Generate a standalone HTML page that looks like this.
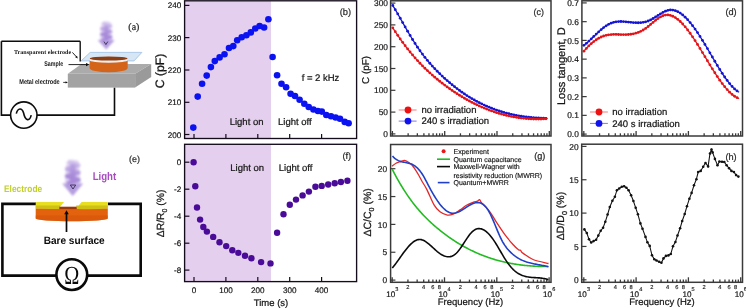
<!DOCTYPE html>
<html><head><meta charset="utf-8"><style>
html,body{margin:0;padding:0;background:#fff;width:746px;height:308px;overflow:hidden}
svg{display:block;will-change:transform}
text{text-rendering:geometricPrecision}
</style></head><body>
<svg width="746" height="308" viewBox="0 0 746 308">
<defs><filter id="blur1" x="-30%" y="-30%" width="160%" height="160%"><feGaussianBlur stdDeviation="0.9"/></filter></defs>
<rect width="746" height="308" fill="#fff"/>
<path d="M1.4,41.3 H80.2" fill="none" stroke="#0d0d0d" stroke-width="1.5"/>
<path d="M1.4,41.3 V115.1 H10.6" fill="none" stroke="#0d0d0d" stroke-width="1.6"/>
<path d="M37,115.1 H114.5 V87.6" fill="none" stroke="#0d0d0d" stroke-width="1.6"/>
<circle cx="23.8" cy="115.1" r="13.2" fill="#fff" stroke="#0d0d0d" stroke-width="1.6"/>
<path d="M16.3,113.6 C17.8,107.5 22,107.5 23.6,113 C25.3,121.5 29.8,121.5 31.2,115.2" fill="none" stroke="#0d0d0d" stroke-width="1.6"/>
<polygon points="67.8,73.8 81.4,64.1 151.2,64.1 135.1,73.8" fill="#ababab"/>
<rect x="67.8" y="73.8" width="67.3" height="13.8" fill="#a3a3a3"/>
<polygon points="135.1,73.8 151.2,64.1 151.2,77.1 135.1,87.6" fill="#9a9a9a"/>
<polygon points="90.2,52.4 141.9,52.4 134,60.9 81.1,60.9" fill="#d7e6f4" stroke="#a4c4e6" stroke-width="0.9"/>
<path d="M89.6,60.5 V68 A19.05,4.3 0 0 0 127.7,68 V60.5 Z" fill="#d5641b"/>
<ellipse cx="108.65" cy="60.3" rx="19.05" ry="2.4" fill="#efefef"/>
<ellipse cx="108.65" cy="58.5" rx="18.8" ry="2.1" fill="#8d3d12"/>
<path d="M80.2,41.3 V61.5" fill="none" stroke="#0d0d0d" stroke-width="1.35"/>
<defs><linearGradient id="lga" gradientUnits="userSpaceOnUse" x1="0" y1="21.5" x2="0" y2="49.5"><stop offset="0" stop-color="#c9b6ea" stop-opacity="0.55"/><stop offset="0.45" stop-color="#a283d6" stop-opacity="0.9"/><stop offset="1" stop-color="#a98bd9" stop-opacity="0.95"/></linearGradient></defs>
<g filter="url(#blur1)">
<path d="M101.47500000000001,22.5 Q106.2,20.0 110.925,22.5 L112.5,40 L99.9,40 Z" fill="#d6c6ef" opacity="0.7"/>
<path d="M102.735,23.0 L110.736,25.83 L101.664,28.67 L110.736,31.50 L101.664,34.33 L110.736,37.17 L101.664,40.00 " fill="none" stroke="url(#lga)" stroke-width="3.40" stroke-linejoin="round"/>
<path d="M103.995,25.5 L108.405,25.5 L108.72,40 L103.68,40 Z" fill="#a484d6" opacity="0.45"/>
<path d="M97.7,40 L114.7,40 L106.2,49.5 Z" fill="#ad93dc" opacity="0.9"/>
</g>
<path d="M104,41.6 L105.9,44.6 L107.8,41.6" fill="none" stroke="#3a2a55" stroke-width="0.9"/>
<text x="14" y="54.4" font-size="6.05" text-anchor="start" fill="#151515" stroke="#151515" stroke-width="0" font-family='"Liberation Serif", serif' font-weight="bold" textLength="57.2" lengthAdjust="spacingAndGlyphs">Transparent electrode</text>
<path d="M72.4,52.4 L76.6,57" fill="none" stroke="#0d0d0d" stroke-width="0.9"/>
<path d="M75.2,57.2 L77.8,58.6 L77,55.8 Z" fill="#0d0d0d"/>
<text x="44.3" y="65.5" font-size="6.9" text-anchor="start" fill="#151515" stroke="#151515" stroke-width="0" font-family='"Liberation Sans", sans-serif' font-weight="bold" textLength="18.8" lengthAdjust="spacingAndGlyphs">Sample</text>
<path d="M68.5,64.6 H87" stroke="#0d0d0d" stroke-width="0.9"/>
<path d="M86,62.9 L89.3,64.6 L86,66.3 Z" fill="#0d0d0d"/>
<text x="19.3" y="83.9" font-size="6.9" text-anchor="start" fill="#151515" stroke="#151515" stroke-width="0" font-family='"Liberation Sans", sans-serif' font-weight="bold" textLength="40.4" lengthAdjust="spacingAndGlyphs">Metal electrode</text>
<path d="M63.2,82.4 H66" stroke="#0d0d0d" stroke-width="0.8"/>
<path d="M65.6,81.2 L67.8,82.4 L65.6,83.6 Z" fill="#0d0d0d"/>
<text x="128.3" y="30.1" font-size="10" text-anchor="start" fill="#2a2a2a" stroke="#2a2a2a" stroke-width="0.232" font-family='"Liberation Serif", serif' font-weight="normal" >(a)</text>
<path d="M36,203.9 H2.4 V275.6 H56.2" fill="none" stroke="#0a0a0a" stroke-width="2.6"/>
<path d="M87.4,275.6 H140.7 V203.9 H107.8" fill="none" stroke="#0a0a0a" stroke-width="2.6"/>
<circle cx="71.8" cy="274.6" r="15.4" fill="#fff" stroke="#0a0a0a" stroke-width="2.6"/>
<text transform="translate(71.8,283.6) scale(0.78,1)" x="0" y="0" font-size="26" text-anchor="middle" fill="#0a0a0a" font-family='"Liberation Serif", serif'>Ω</text>
<path d="M35.7,208.3 V218.6 A36.05,2.6 0 0 0 107.8,218.6 V208.3 Z" fill="#e2620e"/>
<path d="M35.7,215.5 V218.6 A36.05,2.6 0 0 0 107.8,218.6 V215.5 Z" fill="#d5540a" opacity="0.6"/>
<path d="M37,202.1 H64 L59.1,207.9 H35.7 V203.4 Q35.7,202.1 37,202.1 Z" fill="#e8df22"/>
<path d="M81.5,202.1 H106.5 Q107.8,202.1 107.8,203.4 V207.9 H76.7 Z" fill="#e8df22"/>
<path d="M35.7,205.6 H60.2 L59.1,208.9 Q47,209.4 35.7,208.6 Z" fill="#cfc014"/>
<path d="M76.2,205.6 H107.8 V208.6 Q92,209.6 76.7,208.9 Z" fill="#cfc014"/>
<rect x="59.3" y="206.7" width="17.4" height="2.4" fill="#9e3806"/>
<path d="M66.5,232 V213" stroke="#0a0a0a" stroke-width="1.7"/>
<path d="M64.2,214.3 L66.5,210.2 L68.8,214.3 Z" fill="#0a0a0a"/>
<defs><linearGradient id="lge" gradientUnits="userSpaceOnUse" x1="0" y1="160" x2="0" y2="196"><stop offset="0" stop-color="#c9b6ea" stop-opacity="0.55"/><stop offset="0.45" stop-color="#a283d6" stop-opacity="0.9"/><stop offset="1" stop-color="#a98bd9" stop-opacity="0.95"/></linearGradient></defs>
<g filter="url(#blur1)">
<path d="M66.7,161 Q72.7,158.5 78.7,161 L80.7,183.5 L64.7,183.5 Z" fill="#d6c6ef" opacity="0.7"/>
<path d="M68.3,161.5 L78.46000000000001,165.17 L66.94,168.83 L78.46000000000001,172.50 L66.94,176.17 L78.46000000000001,179.83 L66.94,183.50 " fill="none" stroke="url(#lge)" stroke-width="4.32" stroke-linejoin="round"/>
<path d="M69.9,164 L75.5,164 L75.9,183.5 L69.5,183.5 Z" fill="#a484d6" opacity="0.45"/>
<path d="M62.2,183.5 L83.2,183.5 L72.7,196 Z" fill="#ad93dc" opacity="0.9"/>
</g>
<path d="M70.3,185 L75.7,185 L73,189 Z" fill="none" stroke="#3a2a55" stroke-width="0.9"/>
<text x="4.0" y="191.7" font-size="9.6" text-anchor="start" fill="#c2d02c" stroke="#c2d02c" stroke-width="0" font-family='"Liberation Sans", sans-serif' font-weight="bold" textLength="38.2" lengthAdjust="spacingAndGlyphs">Electrode</text>
<text x="92.7" y="180.1" font-size="11.2" text-anchor="start" fill="#a84cc0" stroke="#a84cc0" stroke-width="0" font-family='"Liberation Sans", sans-serif' font-weight="bold" textLength="23.5" lengthAdjust="spacingAndGlyphs">Light</text>
<text x="43.7" y="243.8" font-size="10.6" text-anchor="start" fill="#0a0a0a" stroke="#0a0a0a" stroke-width="0" font-family='"Liberation Sans", sans-serif' font-weight="bold" textLength="61.0" lengthAdjust="spacingAndGlyphs">Bare surface</text>
<text x="134.6" y="161.8" font-size="9" text-anchor="middle" fill="#2a2a2a" stroke="#2a2a2a" stroke-width="0.208" font-family='"Liberation Sans", sans-serif' font-weight="normal" >(e)</text>
<rect x="184.6" y="0.8" width="86.4" height="137.7" fill="#e5cfee"/>
<rect x="184.6" y="0.8" width="172.00000000000003" height="137.7" fill="none" stroke="#140c1a" stroke-width="1.35"/>
<path d="M184.6,5.4 H189.4" stroke="#140c1a" stroke-width="1.2"/>
<text x="181.2" y="8.4" font-size="8.1" text-anchor="end" fill="#161616" stroke="#161616" stroke-width="0.188" font-family='"Liberation Sans", sans-serif' font-weight="normal" >240</text>
<path d="M184.6,37.6 H189.4" stroke="#140c1a" stroke-width="1.2"/>
<text x="181.2" y="40.6" font-size="8.1" text-anchor="end" fill="#161616" stroke="#161616" stroke-width="0.188" font-family='"Liberation Sans", sans-serif' font-weight="normal" >230</text>
<path d="M184.6,70 H189.4" stroke="#140c1a" stroke-width="1.2"/>
<text x="181.2" y="73.0" font-size="8.1" text-anchor="end" fill="#161616" stroke="#161616" stroke-width="0.188" font-family='"Liberation Sans", sans-serif' font-weight="normal" >220</text>
<path d="M184.6,102.3 H189.4" stroke="#140c1a" stroke-width="1.2"/>
<text x="181.2" y="105.3" font-size="8.1" text-anchor="end" fill="#161616" stroke="#161616" stroke-width="0.188" font-family='"Liberation Sans", sans-serif' font-weight="normal" >210</text>
<path d="M184.6,134.5 H189.4" stroke="#140c1a" stroke-width="1.2"/>
<text x="181.2" y="137.5" font-size="8.1" text-anchor="end" fill="#161616" stroke="#161616" stroke-width="0.188" font-family='"Liberation Sans", sans-serif' font-weight="normal" >200</text>
<path d="M194,138.5 V133.9" stroke="#140c1a" stroke-width="1.2"/>
<path d="M225.9,138.5 V133.9" stroke="#140c1a" stroke-width="1.2"/>
<path d="M257.8,138.5 V133.9" stroke="#140c1a" stroke-width="1.2"/>
<path d="M289.7,138.5 V133.9" stroke="#140c1a" stroke-width="1.2"/>
<path d="M321.6,138.5 V133.9" stroke="#140c1a" stroke-width="1.2"/>
<circle cx="193.3" cy="127.6" r="3.3" fill="#0b12f2"/>
<circle cx="197.7" cy="96.6" r="3.3" fill="#0b12f2"/>
<circle cx="202.1" cy="83.7" r="3.3" fill="#0b12f2"/>
<circle cx="206.7" cy="75.6" r="3.3" fill="#0b12f2"/>
<circle cx="210.9" cy="67.1" r="3.3" fill="#0b12f2"/>
<circle cx="214.8" cy="61.1" r="3.3" fill="#0b12f2"/>
<circle cx="219.6" cy="57.4" r="3.3" fill="#0b12f2"/>
<circle cx="224.5" cy="54.2" r="3.3" fill="#0b12f2"/>
<circle cx="229" cy="48" r="3.3" fill="#0b12f2"/>
<circle cx="233.3" cy="46.1" r="3.3" fill="#0b12f2"/>
<circle cx="237.2" cy="40.2" r="3.3" fill="#0b12f2"/>
<circle cx="241.7" cy="37.3" r="3.3" fill="#0b12f2"/>
<circle cx="246.4" cy="35.3" r="3.3" fill="#0b12f2"/>
<circle cx="250.8" cy="32.4" r="3.3" fill="#0b12f2"/>
<circle cx="255.3" cy="28.5" r="3.3" fill="#0b12f2"/>
<circle cx="259.6" cy="26" r="3.3" fill="#0b12f2"/>
<circle cx="264.1" cy="27.5" r="3.3" fill="#0b12f2"/>
<circle cx="268.4" cy="19.2" r="3.3" fill="#0b12f2"/>
<circle cx="272.6" cy="57" r="3.3" fill="#0b12f2"/>
<circle cx="277.1" cy="75.3" r="3.3" fill="#0b12f2"/>
<circle cx="281.5" cy="83.8" r="3.3" fill="#0b12f2"/>
<circle cx="286.1" cy="87.3" r="3.3" fill="#0b12f2"/>
<circle cx="290.6" cy="93.7" r="3.3" fill="#0b12f2"/>
<circle cx="295" cy="96" r="3.3" fill="#0b12f2"/>
<circle cx="299.6" cy="99.8" r="3.3" fill="#0b12f2"/>
<circle cx="304.3" cy="103.8" r="3.3" fill="#0b12f2"/>
<circle cx="308.7" cy="107" r="3.3" fill="#0b12f2"/>
<circle cx="313.4" cy="109.5" r="3.3" fill="#0b12f2"/>
<circle cx="317.9" cy="111" r="3.3" fill="#0b12f2"/>
<circle cx="321.8" cy="111.6" r="3.3" fill="#0b12f2"/>
<circle cx="326.3" cy="115" r="3.3" fill="#0b12f2"/>
<circle cx="331" cy="116.2" r="3.3" fill="#0b12f2"/>
<circle cx="335.6" cy="117.5" r="3.3" fill="#0b12f2"/>
<circle cx="340" cy="118.8" r="3.3" fill="#0b12f2"/>
<circle cx="344.7" cy="121.9" r="3.3" fill="#0b12f2"/>
<circle cx="348.6" cy="123.2" r="3.3" fill="#0b12f2"/>
<text x="229.7" y="124.6" font-size="9.5" text-anchor="start" fill="#161616" stroke="#161616" stroke-width="0.22" font-family='"Liberation Sans", sans-serif' font-weight="normal" >Light on</text>
<text x="278" y="124.6" font-size="9.5" text-anchor="start" fill="#161616" stroke="#161616" stroke-width="0.22" font-family='"Liberation Sans", sans-serif' font-weight="normal" >Light off</text>
<text x="320.5" y="80.6" font-size="9.5" text-anchor="middle" fill="#161616" stroke="#161616" stroke-width="0.22" font-family='"Liberation Sans", sans-serif' font-weight="normal" >f = 2 kHz</text>
<text x="345.4" y="15.2" font-size="9.3" text-anchor="middle" fill="#2a2a2a" stroke="#2a2a2a" stroke-width="0.215" font-family='"Liberation Sans", sans-serif' font-weight="normal" >(b)</text>
<text transform="translate(163.9,71) rotate(-90)" x="0" y="0" font-size="12.2" text-anchor="middle" fill="#161616" stroke="#161616" stroke-width="0.283" font-family='"Liberation Sans", sans-serif'>C (pF)</text>
<rect x="184.6" y="144.3" width="86.4" height="137.3" fill="#e5cfee"/>
<rect x="184.6" y="144.3" width="172.00000000000003" height="137.3" fill="none" stroke="#140c1a" stroke-width="1.35"/>
<path d="M184.6,162.2 H189.4" stroke="#140c1a" stroke-width="1.2"/>
<text x="181.2" y="165.2" font-size="8.1" text-anchor="end" fill="#161616" stroke="#161616" stroke-width="0.188" font-family='"Liberation Sans", sans-serif' font-weight="normal" >0</text>
<path d="M184.6,189.2 H189.4" stroke="#140c1a" stroke-width="1.2"/>
<text x="181.2" y="192.2" font-size="8.1" text-anchor="end" fill="#161616" stroke="#161616" stroke-width="0.188" font-family='"Liberation Sans", sans-serif' font-weight="normal" >-2</text>
<path d="M184.6,216.2 H189.4" stroke="#140c1a" stroke-width="1.2"/>
<text x="181.2" y="219.2" font-size="8.1" text-anchor="end" fill="#161616" stroke="#161616" stroke-width="0.188" font-family='"Liberation Sans", sans-serif' font-weight="normal" >-4</text>
<path d="M184.6,243.2 H189.4" stroke="#140c1a" stroke-width="1.2"/>
<text x="181.2" y="246.2" font-size="8.1" text-anchor="end" fill="#161616" stroke="#161616" stroke-width="0.188" font-family='"Liberation Sans", sans-serif' font-weight="normal" >-6</text>
<path d="M184.6,270.1 H189.4" stroke="#140c1a" stroke-width="1.2"/>
<text x="181.2" y="273.1" font-size="8.1" text-anchor="end" fill="#161616" stroke="#161616" stroke-width="0.188" font-family='"Liberation Sans", sans-serif' font-weight="normal" >-8</text>
<path d="M194,281.6 V277.0" stroke="#140c1a" stroke-width="1.2"/>
<text x="194" y="293" font-size="8.1" text-anchor="middle" fill="#161616" stroke="#161616" stroke-width="0.188" font-family='"Liberation Sans", sans-serif' font-weight="normal" >0</text>
<path d="M225.9,281.6 V277.0" stroke="#140c1a" stroke-width="1.2"/>
<text x="225.9" y="293" font-size="8.1" text-anchor="middle" fill="#161616" stroke="#161616" stroke-width="0.188" font-family='"Liberation Sans", sans-serif' font-weight="normal" >100</text>
<path d="M257.8,281.6 V277.0" stroke="#140c1a" stroke-width="1.2"/>
<text x="257.8" y="293" font-size="8.1" text-anchor="middle" fill="#161616" stroke="#161616" stroke-width="0.188" font-family='"Liberation Sans", sans-serif' font-weight="normal" >200</text>
<path d="M289.7,281.6 V277.0" stroke="#140c1a" stroke-width="1.2"/>
<text x="289.7" y="293" font-size="8.1" text-anchor="middle" fill="#161616" stroke="#161616" stroke-width="0.188" font-family='"Liberation Sans", sans-serif' font-weight="normal" >300</text>
<path d="M321.6,281.6 V277.0" stroke="#140c1a" stroke-width="1.2"/>
<text x="321.6" y="293" font-size="8.1" text-anchor="middle" fill="#161616" stroke="#161616" stroke-width="0.188" font-family='"Liberation Sans", sans-serif' font-weight="normal" >400</text>
<text x="271" y="305.5" font-size="9.5" text-anchor="middle" fill="#161616" stroke="#161616" stroke-width="0.22" font-family='"Liberation Sans", sans-serif' font-weight="normal" >Time (s)</text>
<circle cx="193.6" cy="162.2" r="3.2" fill="#490b98"/>
<circle cx="195.3" cy="186.3" r="3.2" fill="#490b98"/>
<circle cx="197" cy="207.5" r="3.2" fill="#490b98"/>
<circle cx="200.1" cy="219.6" r="3.2" fill="#490b98"/>
<circle cx="203.3" cy="227" r="3.2" fill="#490b98"/>
<circle cx="206.9" cy="231.6" r="3.2" fill="#490b98"/>
<circle cx="213.2" cy="236.9" r="3.2" fill="#490b98"/>
<circle cx="219.5" cy="242.2" r="3.2" fill="#490b98"/>
<circle cx="226.2" cy="246.1" r="3.2" fill="#490b98"/>
<circle cx="232.3" cy="250.3" r="3.2" fill="#490b98"/>
<circle cx="238.3" cy="252.9" r="3.2" fill="#490b98"/>
<circle cx="245" cy="255.7" r="3.2" fill="#490b98"/>
<circle cx="251.4" cy="258.2" r="3.2" fill="#490b98"/>
<circle cx="261.1" cy="262.1" r="3.2" fill="#490b98"/>
<circle cx="270.5" cy="263.4" r="3.2" fill="#490b98"/>
<circle cx="277.1" cy="232.8" r="3.2" fill="#490b98"/>
<circle cx="283.5" cy="214.2" r="3.2" fill="#490b98"/>
<circle cx="289.8" cy="204.8" r="3.2" fill="#490b98"/>
<circle cx="296" cy="199.6" r="3.2" fill="#490b98"/>
<circle cx="302.6" cy="195.4" r="3.2" fill="#490b98"/>
<circle cx="308.9" cy="191.6" r="3.2" fill="#490b98"/>
<circle cx="315.4" cy="186.8" r="3.2" fill="#490b98"/>
<circle cx="321.7" cy="185.9" r="3.2" fill="#490b98"/>
<circle cx="328.2" cy="184.5" r="3.2" fill="#490b98"/>
<circle cx="334.7" cy="183.3" r="3.2" fill="#490b98"/>
<circle cx="340.9" cy="182" r="3.2" fill="#490b98"/>
<circle cx="347.4" cy="180.8" r="3.2" fill="#490b98"/>
<text x="230.3" y="171.2" font-size="9.5" text-anchor="start" fill="#161616" stroke="#161616" stroke-width="0.22" font-family='"Liberation Sans", sans-serif' font-weight="normal" >Light on</text>
<text x="278.8" y="171.2" font-size="9.5" text-anchor="start" fill="#161616" stroke="#161616" stroke-width="0.22" font-family='"Liberation Sans", sans-serif' font-weight="normal" >Light off</text>
<text x="346.8" y="159" font-size="9.3" text-anchor="middle" fill="#2a2a2a" stroke="#2a2a2a" stroke-width="0.215" font-family='"Liberation Sans", sans-serif' font-weight="normal" >(f)</text>
<text transform="translate(164.3,213.4) rotate(-90)" x="0" y="0" font-size="10.4" text-anchor="middle" fill="#161616" stroke="#161616" stroke-width="0.241" font-family='"Liberation Sans", sans-serif'>ΔR/R<tspan font-size="7.0" dy="2.3">0</tspan><tspan dy="-2.3"> (%)</tspan></text>
<rect x="390.6" y="0.8" width="160.39999999999998" height="135.2" fill="none" stroke="#3a3a3a" stroke-width="1.5"/>
<path d="M390.6,133.90 H395.40000000000003" stroke="#3a3a3a" stroke-width="1.2"/>
<text x="388" y="137.00" font-size="8.4" text-anchor="end" fill="#161616" stroke="#161616" stroke-width="0.195" font-family='"Liberation Sans", sans-serif' font-weight="normal" >0</text>
<path d="M390.6,112.10 H395.40000000000003" stroke="#3a3a3a" stroke-width="1.2"/>
<text x="388" y="115.20" font-size="8.4" text-anchor="end" fill="#161616" stroke="#161616" stroke-width="0.195" font-family='"Liberation Sans", sans-serif' font-weight="normal" >50</text>
<path d="M390.6,90.30 H395.40000000000003" stroke="#3a3a3a" stroke-width="1.2"/>
<text x="388" y="93.40" font-size="8.4" text-anchor="end" fill="#161616" stroke="#161616" stroke-width="0.195" font-family='"Liberation Sans", sans-serif' font-weight="normal" >100</text>
<path d="M390.6,68.50 H395.40000000000003" stroke="#3a3a3a" stroke-width="1.2"/>
<text x="388" y="71.60" font-size="8.4" text-anchor="end" fill="#161616" stroke="#161616" stroke-width="0.195" font-family='"Liberation Sans", sans-serif' font-weight="normal" >150</text>
<path d="M390.6,46.70 H395.40000000000003" stroke="#3a3a3a" stroke-width="1.2"/>
<text x="388" y="49.80" font-size="8.4" text-anchor="end" fill="#161616" stroke="#161616" stroke-width="0.195" font-family='"Liberation Sans", sans-serif' font-weight="normal" >200</text>
<path d="M390.6,24.90 H395.40000000000003" stroke="#3a3a3a" stroke-width="1.2"/>
<text x="388" y="28.00" font-size="8.4" text-anchor="end" fill="#161616" stroke="#161616" stroke-width="0.195" font-family='"Liberation Sans", sans-serif' font-weight="normal" >250</text>
<path d="M390.6,3.10 H395.40000000000003" stroke="#3a3a3a" stroke-width="1.2"/>
<text x="388" y="6.20" font-size="8.4" text-anchor="end" fill="#161616" stroke="#161616" stroke-width="0.195" font-family='"Liberation Sans", sans-serif' font-weight="normal" >300</text>
<path d="M392.40,136.0 V131.0" stroke="#3a3a3a" stroke-width="1.3"/>
<path d="M408.14,136.0 V133.3" stroke="#3a3a3a" stroke-width="1.3"/>
<path d="M417.35,136.0 V133.3" stroke="#3a3a3a" stroke-width="1.3"/>
<path d="M423.89,136.0 V133.3" stroke="#3a3a3a" stroke-width="1.3"/>
<path d="M428.96,136.0 V133.3" stroke="#3a3a3a" stroke-width="1.3"/>
<path d="M433.10,136.0 V133.3" stroke="#3a3a3a" stroke-width="1.3"/>
<path d="M436.60,136.0 V133.3" stroke="#3a3a3a" stroke-width="1.3"/>
<path d="M439.63,136.0 V133.3" stroke="#3a3a3a" stroke-width="1.3"/>
<path d="M442.31,136.0 V133.3" stroke="#3a3a3a" stroke-width="1.3"/>
<path d="M444.70,136.0 V131.0" stroke="#3a3a3a" stroke-width="1.3"/>
<path d="M460.44,136.0 V133.3" stroke="#3a3a3a" stroke-width="1.3"/>
<path d="M469.65,136.0 V133.3" stroke="#3a3a3a" stroke-width="1.3"/>
<path d="M476.19,136.0 V133.3" stroke="#3a3a3a" stroke-width="1.3"/>
<path d="M481.26,136.0 V133.3" stroke="#3a3a3a" stroke-width="1.3"/>
<path d="M485.40,136.0 V133.3" stroke="#3a3a3a" stroke-width="1.3"/>
<path d="M488.90,136.0 V133.3" stroke="#3a3a3a" stroke-width="1.3"/>
<path d="M491.93,136.0 V133.3" stroke="#3a3a3a" stroke-width="1.3"/>
<path d="M494.61,136.0 V133.3" stroke="#3a3a3a" stroke-width="1.3"/>
<path d="M497.00,136.0 V131.0" stroke="#3a3a3a" stroke-width="1.3"/>
<path d="M512.74,136.0 V133.3" stroke="#3a3a3a" stroke-width="1.3"/>
<path d="M521.95,136.0 V133.3" stroke="#3a3a3a" stroke-width="1.3"/>
<path d="M528.49,136.0 V133.3" stroke="#3a3a3a" stroke-width="1.3"/>
<path d="M533.56,136.0 V133.3" stroke="#3a3a3a" stroke-width="1.3"/>
<path d="M537.70,136.0 V133.3" stroke="#3a3a3a" stroke-width="1.3"/>
<path d="M541.20,136.0 V133.3" stroke="#3a3a3a" stroke-width="1.3"/>
<path d="M544.23,136.0 V133.3" stroke="#3a3a3a" stroke-width="1.3"/>
<path d="M546.91,136.0 V133.3" stroke="#3a3a3a" stroke-width="1.3"/>
<path d="M549.30,136.0 V131.0" stroke="#3a3a3a" stroke-width="1.3"/>
<path d="M392.80,5.47 L393.60,6.80 L394.40,8.15 L395.20,9.51 L396.00,10.88 L396.80,12.27 L397.60,13.66 L398.40,15.05 L399.20,16.45 L400.00,17.86 L400.80,19.27 L401.60,20.68 L402.40,22.09 L403.20,23.50 L404.00,24.91 L404.80,26.31 L405.60,27.71 L406.40,29.10 L407.20,30.49 L408.00,31.86 L408.80,33.23 L409.60,34.58 L410.40,35.93 L411.20,37.26 L412.00,38.57 L412.80,39.88 L413.60,41.16 L414.40,42.43 L415.20,43.68 L416.00,44.91 L416.80,46.12 L417.60,47.32 L418.40,48.49 L419.20,49.64 L420.00,50.77 L420.80,51.88 L421.60,52.97 L422.40,54.05 L423.20,55.11 L424.00,56.15 L424.80,57.17 L425.60,58.18 L426.40,59.17 L427.20,60.14 L428.00,61.10 L428.80,62.05 L429.60,62.98 L430.40,63.90 L431.20,64.80 L432.00,65.69 L432.80,66.57 L433.60,67.43 L434.40,68.29 L435.20,69.13 L436.00,69.96 L436.80,70.78 L437.60,71.59 L438.40,72.39 L439.20,73.18 L440.00,73.96 L440.80,74.73 L441.60,75.49 L442.40,76.25 L443.20,77.00 L444.00,77.74 L444.80,78.47 L445.60,79.19 L446.40,79.90 L447.20,80.61 L448.00,81.31 L448.80,82.00 L449.60,82.68 L450.40,83.35 L451.20,84.02 L452.00,84.68 L452.80,85.33 L453.60,85.97 L454.40,86.60 L455.20,87.23 L456.00,87.85 L456.80,88.46 L457.60,89.06 L458.40,89.66 L459.20,90.24 L460.00,90.82 L460.80,91.40 L461.60,91.96 L462.40,92.52 L463.20,93.07 L464.00,93.62 L464.80,94.15 L465.60,94.68 L466.40,95.20 L467.20,95.72 L468.00,96.23 L468.80,96.73 L469.60,97.22 L470.40,97.71 L471.20,98.19 L472.00,98.66 L472.80,99.12 L473.60,99.58 L474.40,100.04 L475.20,100.48 L476.00,100.92 L476.80,101.35 L477.60,101.78 L478.40,102.20 L479.20,102.61 L480.00,103.02 L480.80,103.42 L481.60,103.81 L482.40,104.20 L483.20,104.58 L484.00,104.95 L484.80,105.32 L485.60,105.68 L486.40,106.04 L487.20,106.39 L488.00,106.73 L488.80,107.07 L489.60,107.40 L490.40,107.72 L491.20,108.04 L492.00,108.36 L492.80,108.67 L493.60,108.97 L494.40,109.27 L495.20,109.56 L496.00,109.84 L496.80,110.12 L497.60,110.40 L498.40,110.67 L499.20,110.93 L500.00,111.19 L500.80,111.44 L501.60,111.69 L502.40,111.93 L503.20,112.16 L504.00,112.40 L504.80,112.62 L505.60,112.84 L506.40,113.06 L507.20,113.27 L508.00,113.48 L508.80,113.68 L509.60,113.87 L510.40,114.06 L511.20,114.25 L512.00,114.43 L512.80,114.61 L513.60,114.78 L514.40,114.95 L515.20,115.11 L516.00,115.27 L516.80,115.42 L517.60,115.57 L518.40,115.72 L519.20,115.86 L520.00,115.99 L520.80,116.13 L521.60,116.25 L522.40,116.38 L523.20,116.49 L524.00,116.61 L524.80,116.72 L525.60,116.83 L526.40,116.93 L527.20,117.03 L528.00,117.12 L528.80,117.21 L529.60,117.30 L530.40,117.38 L531.20,117.46 L532.00,117.54 L532.80,117.61 L533.60,117.67 L534.40,117.74 L535.20,117.80 L536.00,117.86 L536.80,117.91 L537.60,117.96 L538.40,118.01 L539.20,118.05 L540.00,118.09 L540.80,118.13 L541.60,118.16 L542.40,118.19 L543.20,118.22 L544.00,118.24 L544.80,118.26 L545.60,118.28 L546.40,118.30 L547.20,118.31" fill="none" stroke="#1414d4" stroke-width="1.3"/>
<g fill="#1414d4"><circle cx="392.80" cy="5.47" r="1.4"/><circle cx="395.27" cy="9.63" r="1.4"/><circle cx="397.74" cy="13.90" r="1.4"/><circle cx="400.21" cy="18.23" r="1.4"/><circle cx="402.68" cy="22.59" r="1.4"/><circle cx="405.15" cy="26.93" r="1.4"/><circle cx="407.62" cy="31.21" r="1.4"/><circle cx="410.09" cy="35.41" r="1.4"/><circle cx="412.56" cy="39.49" r="1.4"/><circle cx="415.03" cy="43.42" r="1.4"/><circle cx="417.50" cy="47.17" r="1.4"/><circle cx="419.97" cy="50.73" r="1.4"/><circle cx="422.44" cy="54.10" r="1.4"/><circle cx="424.91" cy="57.31" r="1.4"/><circle cx="427.38" cy="60.36" r="1.4"/><circle cx="429.85" cy="63.27" r="1.4"/><circle cx="432.32" cy="66.04" r="1.4"/><circle cx="434.79" cy="68.70" r="1.4"/><circle cx="437.26" cy="71.24" r="1.4"/><circle cx="439.73" cy="73.70" r="1.4"/><circle cx="442.20" cy="76.06" r="1.4"/><circle cx="444.67" cy="78.35" r="1.4"/><circle cx="447.14" cy="80.56" r="1.4"/><circle cx="449.61" cy="82.69" r="1.4"/><circle cx="452.08" cy="84.74" r="1.4"/><circle cx="454.55" cy="86.72" r="1.4"/><circle cx="457.02" cy="88.62" r="1.4"/><circle cx="459.49" cy="90.46" r="1.4"/><circle cx="461.96" cy="92.22" r="1.4"/><circle cx="464.43" cy="93.90" r="1.4"/><circle cx="466.90" cy="95.53" r="1.4"/><circle cx="469.37" cy="97.08" r="1.4"/><circle cx="471.84" cy="98.56" r="1.4"/><circle cx="474.31" cy="99.98" r="1.4"/><circle cx="476.78" cy="101.34" r="1.4"/><circle cx="479.25" cy="102.64" r="1.4"/><circle cx="481.72" cy="103.87" r="1.4"/><circle cx="484.19" cy="105.04" r="1.4"/><circle cx="486.66" cy="106.15" r="1.4"/><circle cx="489.13" cy="107.20" r="1.4"/><circle cx="491.60" cy="108.20" r="1.4"/><circle cx="494.07" cy="109.14" r="1.4"/><circle cx="496.54" cy="110.03" r="1.4"/><circle cx="499.01" cy="110.87" r="1.4"/><circle cx="501.48" cy="111.65" r="1.4"/><circle cx="503.95" cy="112.38" r="1.4"/><circle cx="506.42" cy="113.07" r="1.4"/><circle cx="508.89" cy="113.70" r="1.4"/><circle cx="511.36" cy="114.29" r="1.4"/><circle cx="513.83" cy="114.83" r="1.4"/><circle cx="516.30" cy="115.33" r="1.4"/><circle cx="518.77" cy="115.78" r="1.4"/><circle cx="521.24" cy="116.20" r="1.4"/><circle cx="523.71" cy="116.57" r="1.4"/><circle cx="526.18" cy="116.90" r="1.4"/><circle cx="528.65" cy="117.19" r="1.4"/><circle cx="531.12" cy="117.45" r="1.4"/><circle cx="533.59" cy="117.67" r="1.4"/><circle cx="536.06" cy="117.86" r="1.4"/><circle cx="538.53" cy="118.01" r="1.4"/><circle cx="541.00" cy="118.14" r="1.4"/><circle cx="543.47" cy="118.23" r="1.4"/><circle cx="545.94" cy="118.29" r="1.4"/></g>
<path d="M392.80,27.79 L393.60,29.05 L394.40,30.29 L395.20,31.52 L396.00,32.74 L396.80,33.95 L397.60,35.14 L398.40,36.31 L399.20,37.47 L400.00,38.62 L400.80,39.76 L401.60,40.88 L402.40,41.99 L403.20,43.09 L404.00,44.17 L404.80,45.24 L405.60,46.30 L406.40,47.34 L407.20,48.37 L408.00,49.39 L408.80,50.40 L409.60,51.39 L410.40,52.38 L411.20,53.35 L412.00,54.31 L412.80,55.25 L413.60,56.19 L414.40,57.11 L415.20,58.02 L416.00,58.92 L416.80,59.81 L417.60,60.69 L418.40,61.56 L419.20,62.42 L420.00,63.26 L420.80,64.10 L421.60,64.92 L422.40,65.74 L423.20,66.54 L424.00,67.34 L424.80,68.13 L425.60,68.90 L426.40,69.67 L427.20,70.43 L428.00,71.18 L428.80,71.92 L429.60,72.65 L430.40,73.37 L431.20,74.09 L432.00,74.80 L432.80,75.50 L433.60,76.19 L434.40,76.87 L435.20,77.55 L436.00,78.22 L436.80,78.88 L437.60,79.54 L438.40,80.19 L439.20,80.83 L440.00,81.47 L440.80,82.10 L441.60,82.73 L442.40,83.35 L443.20,83.96 L444.00,84.57 L444.80,85.17 L445.60,85.77 L446.40,86.36 L447.20,86.94 L448.00,87.52 L448.80,88.10 L449.60,88.67 L450.40,89.23 L451.20,89.79 L452.00,90.34 L452.80,90.89 L453.60,91.43 L454.40,91.97 L455.20,92.50 L456.00,93.02 L456.80,93.54 L457.60,94.06 L458.40,94.57 L459.20,95.07 L460.00,95.57 L460.80,96.06 L461.60,96.55 L462.40,97.03 L463.20,97.50 L464.00,97.98 L464.80,98.44 L465.60,98.90 L466.40,99.36 L467.20,99.80 L468.00,100.25 L468.80,100.69 L469.60,101.12 L470.40,101.55 L471.20,101.97 L472.00,102.39 L472.80,102.80 L473.60,103.21 L474.40,103.61 L475.20,104.00 L476.00,104.40 L476.80,104.78 L477.60,105.16 L478.40,105.54 L479.20,105.90 L480.00,106.27 L480.80,106.63 L481.60,106.98 L482.40,107.33 L483.20,107.67 L484.00,108.01 L484.80,108.34 L485.60,108.67 L486.40,108.99 L487.20,109.31 L488.00,109.62 L488.80,109.93 L489.60,110.23 L490.40,110.53 L491.20,110.82 L492.00,111.10 L492.80,111.38 L493.60,111.66 L494.40,111.93 L495.20,112.20 L496.00,112.46 L496.80,112.71 L497.60,112.96 L498.40,113.21 L499.20,113.45 L500.00,113.68 L500.80,113.91 L501.60,114.13 L502.40,114.35 L503.20,114.57 L504.00,114.78 L504.80,114.98 L505.60,115.18 L506.40,115.37 L507.20,115.56 L508.00,115.74 L508.80,115.92 L509.60,116.10 L510.40,116.27 L511.20,116.43 L512.00,116.59 L512.80,116.74 L513.60,116.89 L514.40,117.03 L515.20,117.17 L516.00,117.31 L516.80,117.43 L517.60,117.56 L518.40,117.68 L519.20,117.79 L520.00,117.90 L520.80,118.00 L521.60,118.10 L522.40,118.20 L523.20,118.29 L524.00,118.37 L524.80,118.45 L525.60,118.52 L526.40,118.59 L527.20,118.66 L528.00,118.72 L528.80,118.77 L529.60,118.82 L530.40,118.87 L531.20,118.91 L532.00,118.94 L532.80,118.97 L533.60,119.00 L534.40,119.02 L535.20,119.04 L536.00,119.05 L536.80,119.05 L537.60,119.06 L538.40,119.05 L539.20,119.04 L540.00,119.03 L540.80,119.01 L541.60,118.99 L542.40,118.96 L543.20,118.93 L544.00,118.90 L544.80,118.85 L545.60,118.81 L546.40,118.76 L547.20,118.70" fill="none" stroke="#e2141a" stroke-width="1.3"/>
<g fill="#e2141a"><circle cx="392.80" cy="27.79" r="1.4"/><circle cx="395.27" cy="31.63" r="1.4"/><circle cx="397.74" cy="35.34" r="1.4"/><circle cx="400.21" cy="38.92" r="1.4"/><circle cx="402.68" cy="42.37" r="1.4"/><circle cx="405.15" cy="45.70" r="1.4"/><circle cx="407.62" cy="48.91" r="1.4"/><circle cx="410.09" cy="52.00" r="1.4"/><circle cx="412.56" cy="54.97" r="1.4"/><circle cx="415.03" cy="57.83" r="1.4"/><circle cx="417.50" cy="60.58" r="1.4"/><circle cx="419.97" cy="63.23" r="1.4"/><circle cx="422.44" cy="65.78" r="1.4"/><circle cx="424.91" cy="68.23" r="1.4"/><circle cx="427.38" cy="70.60" r="1.4"/><circle cx="429.85" cy="72.88" r="1.4"/><circle cx="432.32" cy="75.08" r="1.4"/><circle cx="434.79" cy="77.20" r="1.4"/><circle cx="437.26" cy="79.26" r="1.4"/><circle cx="439.73" cy="81.26" r="1.4"/><circle cx="442.20" cy="83.19" r="1.4"/><circle cx="444.67" cy="85.07" r="1.4"/><circle cx="447.14" cy="86.90" r="1.4"/><circle cx="449.61" cy="88.67" r="1.4"/><circle cx="452.08" cy="90.40" r="1.4"/><circle cx="454.55" cy="92.07" r="1.4"/><circle cx="457.02" cy="93.68" r="1.4"/><circle cx="459.49" cy="95.25" r="1.4"/><circle cx="461.96" cy="96.76" r="1.4"/><circle cx="464.43" cy="98.23" r="1.4"/><circle cx="466.90" cy="99.64" r="1.4"/><circle cx="469.37" cy="101.00" r="1.4"/><circle cx="471.84" cy="102.31" r="1.4"/><circle cx="474.31" cy="103.56" r="1.4"/><circle cx="476.78" cy="104.77" r="1.4"/><circle cx="479.25" cy="105.93" r="1.4"/><circle cx="481.72" cy="107.03" r="1.4"/><circle cx="484.19" cy="108.09" r="1.4"/><circle cx="486.66" cy="109.10" r="1.4"/><circle cx="489.13" cy="110.05" r="1.4"/><circle cx="491.60" cy="110.96" r="1.4"/><circle cx="494.07" cy="111.82" r="1.4"/><circle cx="496.54" cy="112.63" r="1.4"/><circle cx="499.01" cy="113.39" r="1.4"/><circle cx="501.48" cy="114.10" r="1.4"/><circle cx="503.95" cy="114.76" r="1.4"/><circle cx="506.42" cy="115.38" r="1.4"/><circle cx="508.89" cy="115.94" r="1.4"/><circle cx="511.36" cy="116.46" r="1.4"/><circle cx="513.83" cy="116.93" r="1.4"/><circle cx="516.30" cy="117.36" r="1.4"/><circle cx="518.77" cy="117.73" r="1.4"/><circle cx="521.24" cy="118.06" r="1.4"/><circle cx="523.71" cy="118.34" r="1.4"/><circle cx="526.18" cy="118.57" r="1.4"/><circle cx="528.65" cy="118.76" r="1.4"/><circle cx="531.12" cy="118.90" r="1.4"/><circle cx="533.59" cy="119.00" r="1.4"/><circle cx="536.06" cy="119.05" r="1.4"/><circle cx="538.53" cy="119.05" r="1.4"/><circle cx="541.00" cy="119.01" r="1.4"/><circle cx="543.47" cy="118.92" r="1.4"/><circle cx="545.94" cy="118.79" r="1.4"/></g>
<path d="M398.7,110 H416.6" stroke="#f07a7a" stroke-width="1"/>
<circle cx="408" cy="110" r="3.4" fill="#ee1111"/>
<path d="M398.7,121.1 H416.6" stroke="#7a7af0" stroke-width="1"/>
<circle cx="408" cy="121.1" r="3.4" fill="#1111ee"/>
<text x="421.5" y="113.3" font-size="9.5" text-anchor="start" fill="#161616" stroke="#161616" stroke-width="0.22" font-family='"Liberation Sans", sans-serif' font-weight="normal" >no irradiation</text>
<text x="421.5" y="124.4" font-size="9.5" text-anchor="start" fill="#161616" stroke="#161616" stroke-width="0.22" font-family='"Liberation Sans", sans-serif' font-weight="normal" >240 s irradiation</text>
<text x="538.7" y="15.4" font-size="8.9" text-anchor="middle" fill="#2a2a2a" stroke="#2a2a2a" stroke-width="0.206" font-family='"Liberation Sans", sans-serif' font-weight="normal" >(c)</text>
<text transform="translate(369.0,70) rotate(-90)" x="0" y="0" font-size="9.9" text-anchor="middle" fill="#161616" stroke="#161616" stroke-width="0.229" font-family='"Liberation Sans", sans-serif'>C (pF)</text>
<rect x="581.9" y="0.8" width="160.60000000000002" height="135.2" fill="none" stroke="#3a3a3a" stroke-width="1.5"/>
<path d="M581.9,134.10 H586.6999999999999" stroke="#3a3a3a" stroke-width="1.2"/>
<text x="578.8" y="137.20" font-size="8.4" text-anchor="end" fill="#161616" stroke="#161616" stroke-width="0.195" font-family='"Liberation Sans", sans-serif' font-weight="normal" >0.0</text>
<path d="M581.9,115.36 H586.6999999999999" stroke="#3a3a3a" stroke-width="1.2"/>
<text x="578.8" y="118.46" font-size="8.4" text-anchor="end" fill="#161616" stroke="#161616" stroke-width="0.195" font-family='"Liberation Sans", sans-serif' font-weight="normal" >0.1</text>
<path d="M581.9,96.62 H586.6999999999999" stroke="#3a3a3a" stroke-width="1.2"/>
<text x="578.8" y="99.72" font-size="8.4" text-anchor="end" fill="#161616" stroke="#161616" stroke-width="0.195" font-family='"Liberation Sans", sans-serif' font-weight="normal" >0.2</text>
<path d="M581.9,77.88 H586.6999999999999" stroke="#3a3a3a" stroke-width="1.2"/>
<text x="578.8" y="80.98" font-size="8.4" text-anchor="end" fill="#161616" stroke="#161616" stroke-width="0.195" font-family='"Liberation Sans", sans-serif' font-weight="normal" >0.3</text>
<path d="M581.9,59.14 H586.6999999999999" stroke="#3a3a3a" stroke-width="1.2"/>
<text x="578.8" y="62.24" font-size="8.4" text-anchor="end" fill="#161616" stroke="#161616" stroke-width="0.195" font-family='"Liberation Sans", sans-serif' font-weight="normal" >0.4</text>
<path d="M581.9,40.40 H586.6999999999999" stroke="#3a3a3a" stroke-width="1.2"/>
<text x="578.8" y="43.50" font-size="8.4" text-anchor="end" fill="#161616" stroke="#161616" stroke-width="0.195" font-family='"Liberation Sans", sans-serif' font-weight="normal" >0.5</text>
<path d="M581.9,21.66 H586.6999999999999" stroke="#3a3a3a" stroke-width="1.2"/>
<text x="578.8" y="24.76" font-size="8.4" text-anchor="end" fill="#161616" stroke="#161616" stroke-width="0.195" font-family='"Liberation Sans", sans-serif' font-weight="normal" >0.6</text>
<path d="M581.9,2.92 H586.6999999999999" stroke="#3a3a3a" stroke-width="1.2"/>
<text x="578.8" y="6.02" font-size="8.4" text-anchor="end" fill="#161616" stroke="#161616" stroke-width="0.195" font-family='"Liberation Sans", sans-serif' font-weight="normal" >0.7</text>
<path d="M583.80,136.0 V131.0" stroke="#3a3a3a" stroke-width="1.3"/>
<path d="M599.54,136.0 V133.3" stroke="#3a3a3a" stroke-width="1.3"/>
<path d="M608.75,136.0 V133.3" stroke="#3a3a3a" stroke-width="1.3"/>
<path d="M615.29,136.0 V133.3" stroke="#3a3a3a" stroke-width="1.3"/>
<path d="M620.36,136.0 V133.3" stroke="#3a3a3a" stroke-width="1.3"/>
<path d="M624.50,136.0 V133.3" stroke="#3a3a3a" stroke-width="1.3"/>
<path d="M628.00,136.0 V133.3" stroke="#3a3a3a" stroke-width="1.3"/>
<path d="M631.03,136.0 V133.3" stroke="#3a3a3a" stroke-width="1.3"/>
<path d="M633.71,136.0 V133.3" stroke="#3a3a3a" stroke-width="1.3"/>
<path d="M636.10,136.0 V131.0" stroke="#3a3a3a" stroke-width="1.3"/>
<path d="M651.84,136.0 V133.3" stroke="#3a3a3a" stroke-width="1.3"/>
<path d="M661.05,136.0 V133.3" stroke="#3a3a3a" stroke-width="1.3"/>
<path d="M667.59,136.0 V133.3" stroke="#3a3a3a" stroke-width="1.3"/>
<path d="M672.66,136.0 V133.3" stroke="#3a3a3a" stroke-width="1.3"/>
<path d="M676.80,136.0 V133.3" stroke="#3a3a3a" stroke-width="1.3"/>
<path d="M680.30,136.0 V133.3" stroke="#3a3a3a" stroke-width="1.3"/>
<path d="M683.33,136.0 V133.3" stroke="#3a3a3a" stroke-width="1.3"/>
<path d="M686.01,136.0 V133.3" stroke="#3a3a3a" stroke-width="1.3"/>
<path d="M688.40,136.0 V131.0" stroke="#3a3a3a" stroke-width="1.3"/>
<path d="M704.14,136.0 V133.3" stroke="#3a3a3a" stroke-width="1.3"/>
<path d="M713.35,136.0 V133.3" stroke="#3a3a3a" stroke-width="1.3"/>
<path d="M719.89,136.0 V133.3" stroke="#3a3a3a" stroke-width="1.3"/>
<path d="M724.96,136.0 V133.3" stroke="#3a3a3a" stroke-width="1.3"/>
<path d="M729.10,136.0 V133.3" stroke="#3a3a3a" stroke-width="1.3"/>
<path d="M732.60,136.0 V133.3" stroke="#3a3a3a" stroke-width="1.3"/>
<path d="M735.63,136.0 V133.3" stroke="#3a3a3a" stroke-width="1.3"/>
<path d="M738.31,136.0 V133.3" stroke="#3a3a3a" stroke-width="1.3"/>
<path d="M740.70,136.0 V131.0" stroke="#3a3a3a" stroke-width="1.3"/>
<path d="M583.90,45.30 L584.70,44.68 L585.50,44.03 L586.30,43.36 L587.10,42.67 L587.90,41.97 L588.70,41.25 L589.50,40.52 L590.30,39.78 L591.10,39.02 L591.90,38.27 L592.70,37.50 L593.50,36.74 L594.30,35.97 L595.10,35.20 L595.90,34.44 L596.70,33.68 L597.50,32.93 L598.30,32.19 L599.10,31.46 L599.90,30.74 L600.70,30.04 L601.50,29.35 L602.30,28.68 L603.10,28.03 L603.90,27.41 L604.70,26.81 L605.50,26.23 L606.30,25.69 L607.10,25.17 L607.90,24.69 L608.70,24.24 L609.50,23.83 L610.30,23.46 L611.10,23.12 L611.90,22.82 L612.70,22.56 L613.50,22.33 L614.30,22.13 L615.10,21.96 L615.90,21.83 L616.70,21.71 L617.50,21.62 L618.30,21.56 L619.10,21.52 L619.90,21.49 L620.70,21.49 L621.50,21.50 L622.30,21.53 L623.10,21.57 L623.90,21.62 L624.70,21.69 L625.50,21.76 L626.30,21.83 L627.10,21.92 L627.90,22.00 L628.70,22.09 L629.50,22.18 L630.30,22.26 L631.10,22.35 L631.90,22.42 L632.70,22.50 L633.50,22.56 L634.30,22.62 L635.10,22.67 L635.90,22.71 L636.70,22.73 L637.50,22.74 L638.30,22.74 L639.10,22.72 L639.90,22.68 L640.70,22.63 L641.50,22.55 L642.30,22.46 L643.10,22.34 L643.90,22.20 L644.70,22.03 L645.50,21.83 L646.30,21.61 L647.10,21.36 L647.90,21.08 L648.70,20.76 L649.50,20.42 L650.30,20.04 L651.10,19.63 L651.90,19.19 L652.70,18.74 L653.50,18.26 L654.30,17.77 L655.10,17.26 L655.90,16.75 L656.70,16.23 L657.50,15.71 L658.30,15.19 L659.10,14.68 L659.90,14.17 L660.70,13.68 L661.50,13.20 L662.30,12.74 L663.10,12.30 L663.90,11.89 L664.70,11.51 L665.50,11.16 L666.30,10.85 L667.10,10.58 L667.90,10.35 L668.70,10.17 L669.50,10.04 L670.30,9.96 L671.10,9.94 L671.90,9.96 L672.70,10.04 L673.50,10.17 L674.30,10.35 L675.10,10.58 L675.90,10.85 L676.70,11.17 L677.50,11.54 L678.30,11.95 L679.10,12.40 L679.90,12.90 L680.70,13.44 L681.50,14.02 L682.30,14.64 L683.10,15.29 L683.90,15.99 L684.70,16.72 L685.50,17.49 L686.30,18.29 L687.10,19.12 L687.90,19.99 L688.70,20.89 L689.50,21.82 L690.30,22.78 L691.10,23.77 L691.90,24.78 L692.70,25.82 L693.50,26.89 L694.30,27.99 L695.10,29.10 L695.90,30.24 L696.70,31.40 L697.50,32.59 L698.30,33.79 L699.10,35.01 L699.90,36.25 L700.70,37.51 L701.50,38.78 L702.30,40.06 L703.10,41.37 L703.90,42.68 L704.70,44.00 L705.50,45.34 L706.30,46.69 L707.10,48.04 L707.90,49.40 L708.70,50.77 L709.50,52.14 L710.30,53.51 L711.10,54.89 L711.90,56.26 L712.70,57.63 L713.50,59.00 L714.30,60.37 L715.10,61.72 L715.90,63.07 L716.70,64.41 L717.50,65.74 L718.30,67.06 L719.10,68.36 L719.90,69.65 L720.70,70.93 L721.50,72.18 L722.30,73.42 L723.10,74.63 L723.90,75.82 L724.70,76.99 L725.50,78.13 L726.30,79.25 L727.10,80.34 L727.90,81.40 L728.70,82.43 L729.50,83.42 L730.30,84.38 L731.10,85.31 L731.90,86.20 L732.70,87.05 L733.50,87.86 L734.30,88.63 L735.10,89.36 L735.90,90.04 L736.70,90.68 L737.50,91.27 L738.30,91.81 L739.10,92.30" fill="none" stroke="#1414d4" stroke-width="1.3"/>
<g fill="#1414d4"><circle cx="583.90" cy="45.30" r="1.4"/><circle cx="586.37" cy="43.30" r="1.4"/><circle cx="588.84" cy="41.12" r="1.4"/><circle cx="591.31" cy="38.83" r="1.4"/><circle cx="593.78" cy="36.47" r="1.4"/><circle cx="596.25" cy="34.11" r="1.4"/><circle cx="598.72" cy="31.81" r="1.4"/><circle cx="601.19" cy="29.61" r="1.4"/><circle cx="603.66" cy="27.59" r="1.4"/><circle cx="606.13" cy="25.80" r="1.4"/><circle cx="608.60" cy="24.30" r="1.4"/><circle cx="611.07" cy="23.13" r="1.4"/><circle cx="613.54" cy="22.32" r="1.4"/><circle cx="616.01" cy="21.81" r="1.4"/><circle cx="618.48" cy="21.55" r="1.4"/><circle cx="620.95" cy="21.49" r="1.4"/><circle cx="623.42" cy="21.59" r="1.4"/><circle cx="625.89" cy="21.79" r="1.4"/><circle cx="628.36" cy="22.05" r="1.4"/><circle cx="630.83" cy="22.32" r="1.4"/><circle cx="633.30" cy="22.55" r="1.4"/><circle cx="635.77" cy="22.70" r="1.4"/><circle cx="638.24" cy="22.74" r="1.4"/><circle cx="640.71" cy="22.63" r="1.4"/><circle cx="643.18" cy="22.32" r="1.4"/><circle cx="645.65" cy="21.79" r="1.4"/><circle cx="648.12" cy="20.99" r="1.4"/><circle cx="650.59" cy="19.89" r="1.4"/><circle cx="653.06" cy="18.52" r="1.4"/><circle cx="655.53" cy="16.99" r="1.4"/><circle cx="658.00" cy="15.38" r="1.4"/><circle cx="660.47" cy="13.82" r="1.4"/><circle cx="662.94" cy="12.39" r="1.4"/><circle cx="665.41" cy="11.20" r="1.4"/><circle cx="667.88" cy="10.36" r="1.4"/><circle cx="670.35" cy="9.96" r="1.4"/><circle cx="672.82" cy="10.06" r="1.4"/><circle cx="675.29" cy="10.64" r="1.4"/><circle cx="677.76" cy="11.67" r="1.4"/><circle cx="680.23" cy="13.12" r="1.4"/><circle cx="682.70" cy="14.96" r="1.4"/><circle cx="685.17" cy="17.16" r="1.4"/><circle cx="687.64" cy="19.70" r="1.4"/><circle cx="690.11" cy="22.55" r="1.4"/><circle cx="692.58" cy="25.67" r="1.4"/><circle cx="695.05" cy="29.03" r="1.4"/><circle cx="697.52" cy="32.62" r="1.4"/><circle cx="699.99" cy="36.39" r="1.4"/><circle cx="702.46" cy="40.32" r="1.4"/><circle cx="704.93" cy="44.39" r="1.4"/><circle cx="707.40" cy="48.55" r="1.4"/><circle cx="709.87" cy="52.78" r="1.4"/><circle cx="712.34" cy="57.02" r="1.4"/><circle cx="714.81" cy="61.23" r="1.4"/><circle cx="717.28" cy="65.38" r="1.4"/><circle cx="719.75" cy="69.41" r="1.4"/><circle cx="722.22" cy="73.29" r="1.4"/><circle cx="724.69" cy="76.98" r="1.4"/><circle cx="727.16" cy="80.42" r="1.4"/><circle cx="729.63" cy="83.58" r="1.4"/><circle cx="732.10" cy="86.41" r="1.4"/><circle cx="734.57" cy="88.88" r="1.4"/><circle cx="737.04" cy="90.94" r="1.4"/></g>
<path d="M583.90,51.15 L584.70,50.22 L585.50,49.32 L586.30,48.45 L587.10,47.60 L587.90,46.78 L588.70,45.98 L589.50,45.21 L590.30,44.47 L591.10,43.75 L591.90,43.05 L592.70,42.39 L593.50,41.75 L594.30,41.14 L595.10,40.55 L595.90,39.99 L596.70,39.46 L597.50,38.95 L598.30,38.48 L599.10,38.03 L599.90,37.60 L600.70,37.21 L601.50,36.84 L602.30,36.50 L603.10,36.19 L603.90,35.91 L604.70,35.66 L605.50,35.44 L606.30,35.24 L607.10,35.07 L607.90,34.92 L608.70,34.79 L609.50,34.69 L610.30,34.60 L611.10,34.54 L611.90,34.49 L612.70,34.45 L613.50,34.43 L614.30,34.42 L615.10,34.41 L615.90,34.42 L616.70,34.44 L617.50,34.46 L618.30,34.48 L619.10,34.51 L619.90,34.53 L620.70,34.56 L621.50,34.58 L622.30,34.60 L623.10,34.62 L623.90,34.63 L624.70,34.62 L625.50,34.61 L626.30,34.59 L627.10,34.56 L627.90,34.52 L628.70,34.46 L629.50,34.39 L630.30,34.30 L631.10,34.19 L631.90,34.07 L632.70,33.93 L633.50,33.78 L634.30,33.60 L635.10,33.40 L635.90,33.18 L636.70,32.94 L637.50,32.67 L638.30,32.38 L639.10,32.06 L639.90,31.72 L640.70,31.35 L641.50,30.95 L642.30,30.52 L643.10,30.06 L643.90,29.57 L644.70,29.05 L645.50,28.50 L646.30,27.92 L647.10,27.31 L647.90,26.68 L648.70,26.04 L649.50,25.38 L650.30,24.72 L651.10,24.04 L651.90,23.37 L652.70,22.69 L653.50,22.02 L654.30,21.36 L655.10,20.71 L655.90,20.08 L656.70,19.47 L657.50,18.88 L658.30,18.32 L659.10,17.78 L659.90,17.29 L660.70,16.83 L661.50,16.41 L662.30,16.04 L663.10,15.71 L663.90,15.44 L664.70,15.23 L665.50,15.07 L666.30,14.97 L667.10,14.93 L667.90,14.95 L668.70,15.02 L669.50,15.15 L670.30,15.33 L671.10,15.56 L671.90,15.84 L672.70,16.17 L673.50,16.55 L674.30,16.98 L675.10,17.45 L675.90,17.97 L676.70,18.53 L677.50,19.13 L678.30,19.77 L679.10,20.45 L679.90,21.17 L680.70,21.93 L681.50,22.73 L682.30,23.56 L683.10,24.42 L683.90,25.32 L684.70,26.25 L685.50,27.21 L686.30,28.20 L687.10,29.21 L687.90,30.26 L688.70,31.32 L689.50,32.42 L690.30,33.53 L691.10,34.67 L691.90,35.83 L692.70,37.01 L693.50,38.21 L694.30,39.42 L695.10,40.65 L695.90,41.90 L696.70,43.16 L697.50,44.43 L698.30,45.71 L699.10,47.01 L699.90,48.31 L700.70,49.62 L701.50,50.94 L702.30,52.26 L703.10,53.59 L703.90,54.92 L704.70,56.25 L705.50,57.58 L706.30,58.92 L707.10,60.25 L707.90,61.58 L708.70,62.90 L709.50,64.22 L710.30,65.53 L711.10,66.83 L711.90,68.13 L712.70,69.42 L713.50,70.69 L714.30,71.95 L715.10,73.20 L715.90,74.44 L716.70,75.66 L717.50,76.86 L718.30,78.04 L719.10,79.21 L719.90,80.35 L720.70,81.47 L721.50,82.57 L722.30,83.64 L723.10,84.69 L723.90,85.72 L724.70,86.71 L725.50,87.68 L726.30,88.61 L727.10,89.52 L727.90,90.39 L728.70,91.23 L729.50,92.03 L730.30,92.80 L731.10,93.53 L731.90,94.22 L732.70,94.87 L733.50,95.48 L734.30,96.05 L735.10,96.58 L735.90,97.06 L736.70,97.50 L737.50,97.89 L738.30,98.23 L739.10,98.53" fill="none" stroke="#e2141a" stroke-width="1.3"/>
<g fill="#e2141a"><circle cx="583.90" cy="51.15" r="1.4"/><circle cx="586.37" cy="48.38" r="1.4"/><circle cx="588.84" cy="45.85" r="1.4"/><circle cx="591.31" cy="43.56" r="1.4"/><circle cx="593.78" cy="41.53" r="1.4"/><circle cx="596.25" cy="39.75" r="1.4"/><circle cx="598.72" cy="38.24" r="1.4"/><circle cx="601.19" cy="36.98" r="1.4"/><circle cx="603.66" cy="35.99" r="1.4"/><circle cx="606.13" cy="35.28" r="1.4"/><circle cx="608.60" cy="34.81" r="1.4"/><circle cx="611.07" cy="34.54" r="1.4"/><circle cx="613.54" cy="34.43" r="1.4"/><circle cx="616.01" cy="34.42" r="1.4"/><circle cx="618.48" cy="34.49" r="1.4"/><circle cx="620.95" cy="34.57" r="1.4"/><circle cx="623.42" cy="34.62" r="1.4"/><circle cx="625.89" cy="34.61" r="1.4"/><circle cx="628.36" cy="34.48" r="1.4"/><circle cx="630.83" cy="34.23" r="1.4"/><circle cx="633.30" cy="33.82" r="1.4"/><circle cx="635.77" cy="33.22" r="1.4"/><circle cx="638.24" cy="32.40" r="1.4"/><circle cx="640.71" cy="31.34" r="1.4"/><circle cx="643.18" cy="30.01" r="1.4"/><circle cx="645.65" cy="28.39" r="1.4"/><circle cx="648.12" cy="26.51" r="1.4"/><circle cx="650.59" cy="24.47" r="1.4"/><circle cx="653.06" cy="22.39" r="1.4"/><circle cx="655.53" cy="20.37" r="1.4"/><circle cx="658.00" cy="18.52" r="1.4"/><circle cx="660.47" cy="16.96" r="1.4"/><circle cx="662.94" cy="15.77" r="1.4"/><circle cx="665.41" cy="15.08" r="1.4"/><circle cx="667.88" cy="14.95" r="1.4"/><circle cx="670.35" cy="15.34" r="1.4"/><circle cx="672.82" cy="16.23" r="1.4"/><circle cx="675.29" cy="17.57" r="1.4"/><circle cx="677.76" cy="19.33" r="1.4"/><circle cx="680.23" cy="21.48" r="1.4"/><circle cx="682.70" cy="23.99" r="1.4"/><circle cx="685.17" cy="26.81" r="1.4"/><circle cx="687.64" cy="29.91" r="1.4"/><circle cx="690.11" cy="33.27" r="1.4"/><circle cx="692.58" cy="36.83" r="1.4"/><circle cx="695.05" cy="40.58" r="1.4"/><circle cx="697.52" cy="44.46" r="1.4"/><circle cx="699.99" cy="48.46" r="1.4"/><circle cx="702.46" cy="52.53" r="1.4"/><circle cx="704.93" cy="56.63" r="1.4"/><circle cx="707.40" cy="60.75" r="1.4"/><circle cx="709.87" cy="64.83" r="1.4"/><circle cx="712.34" cy="68.84" r="1.4"/><circle cx="714.81" cy="72.75" r="1.4"/><circle cx="717.28" cy="76.53" r="1.4"/><circle cx="719.75" cy="80.14" r="1.4"/><circle cx="722.22" cy="83.54" r="1.4"/><circle cx="724.69" cy="86.70" r="1.4"/><circle cx="727.16" cy="89.58" r="1.4"/><circle cx="729.63" cy="92.16" r="1.4"/><circle cx="732.10" cy="94.39" r="1.4"/><circle cx="734.57" cy="96.24" r="1.4"/><circle cx="737.04" cy="97.67" r="1.4"/></g>
<path d="M590,112 H607.9" stroke="#f07a7a" stroke-width="1"/>
<circle cx="599" cy="112" r="3.4" fill="#ee1111"/>
<path d="M590,123.4 H607.9" stroke="#7a7af0" stroke-width="1"/>
<circle cx="599" cy="123.4" r="3.4" fill="#1111ee"/>
<text x="612.3" y="115.3" font-size="9.5" text-anchor="start" fill="#161616" stroke="#161616" stroke-width="0.22" font-family='"Liberation Sans", sans-serif' font-weight="normal" >no irradiation</text>
<text x="612.3" y="126.7" font-size="9.5" text-anchor="start" fill="#161616" stroke="#161616" stroke-width="0.22" font-family='"Liberation Sans", sans-serif' font-weight="normal" >240 s irradiation</text>
<text x="731" y="15.4" font-size="9.2" text-anchor="middle" fill="#2a2a2a" stroke="#2a2a2a" stroke-width="0.213" font-family='"Liberation Sans", sans-serif' font-weight="normal" >(d)</text>
<text transform="translate(564.8,66.2) rotate(-90)" x="0" y="0" font-size="11.1" text-anchor="middle" fill="#161616" stroke="#161616" stroke-width="0.257" font-family='"Liberation Sans", sans-serif'>Loss tangent, D</text>
<rect x="390.6" y="144.5" width="160.39999999999998" height="137.8" fill="none" stroke="#3a3a3a" stroke-width="1.5"/>
<path d="M390.6,280.10 H395.40000000000003" stroke="#3a3a3a" stroke-width="1.2"/>
<text x="387.2" y="283.20" font-size="8.4" text-anchor="end" fill="#161616" stroke="#161616" stroke-width="0.195" font-family='"Liberation Sans", sans-serif' font-weight="normal" >0</text>
<path d="M390.6,252.25 H395.40000000000003" stroke="#3a3a3a" stroke-width="1.2"/>
<text x="387.2" y="255.35" font-size="8.4" text-anchor="end" fill="#161616" stroke="#161616" stroke-width="0.195" font-family='"Liberation Sans", sans-serif' font-weight="normal" >5</text>
<path d="M390.6,224.40 H395.40000000000003" stroke="#3a3a3a" stroke-width="1.2"/>
<text x="387.2" y="227.50" font-size="8.4" text-anchor="end" fill="#161616" stroke="#161616" stroke-width="0.195" font-family='"Liberation Sans", sans-serif' font-weight="normal" >10</text>
<path d="M390.6,196.55 H395.40000000000003" stroke="#3a3a3a" stroke-width="1.2"/>
<text x="387.2" y="199.65" font-size="8.4" text-anchor="end" fill="#161616" stroke="#161616" stroke-width="0.195" font-family='"Liberation Sans", sans-serif' font-weight="normal" >15</text>
<path d="M390.6,168.70 H395.40000000000003" stroke="#3a3a3a" stroke-width="1.2"/>
<text x="387.2" y="171.80" font-size="8.4" text-anchor="end" fill="#161616" stroke="#161616" stroke-width="0.195" font-family='"Liberation Sans", sans-serif' font-weight="normal" >20</text>
<path d="M392.20,282.3 V277.3" stroke="#3a3a3a" stroke-width="1.3"/>
<path d="M407.94,282.3 V279.6" stroke="#3a3a3a" stroke-width="1.3"/>
<path d="M417.15,282.3 V279.6" stroke="#3a3a3a" stroke-width="1.3"/>
<path d="M423.69,282.3 V279.6" stroke="#3a3a3a" stroke-width="1.3"/>
<path d="M428.76,282.3 V279.6" stroke="#3a3a3a" stroke-width="1.3"/>
<path d="M432.90,282.3 V279.6" stroke="#3a3a3a" stroke-width="1.3"/>
<path d="M436.40,282.3 V279.6" stroke="#3a3a3a" stroke-width="1.3"/>
<path d="M439.43,282.3 V279.6" stroke="#3a3a3a" stroke-width="1.3"/>
<path d="M442.11,282.3 V279.6" stroke="#3a3a3a" stroke-width="1.3"/>
<path d="M444.50,282.3 V277.3" stroke="#3a3a3a" stroke-width="1.3"/>
<path d="M460.24,282.3 V279.6" stroke="#3a3a3a" stroke-width="1.3"/>
<path d="M469.45,282.3 V279.6" stroke="#3a3a3a" stroke-width="1.3"/>
<path d="M475.99,282.3 V279.6" stroke="#3a3a3a" stroke-width="1.3"/>
<path d="M481.06,282.3 V279.6" stroke="#3a3a3a" stroke-width="1.3"/>
<path d="M485.20,282.3 V279.6" stroke="#3a3a3a" stroke-width="1.3"/>
<path d="M488.70,282.3 V279.6" stroke="#3a3a3a" stroke-width="1.3"/>
<path d="M491.73,282.3 V279.6" stroke="#3a3a3a" stroke-width="1.3"/>
<path d="M494.41,282.3 V279.6" stroke="#3a3a3a" stroke-width="1.3"/>
<path d="M496.80,282.3 V277.3" stroke="#3a3a3a" stroke-width="1.3"/>
<path d="M512.54,282.3 V279.6" stroke="#3a3a3a" stroke-width="1.3"/>
<path d="M521.75,282.3 V279.6" stroke="#3a3a3a" stroke-width="1.3"/>
<path d="M528.29,282.3 V279.6" stroke="#3a3a3a" stroke-width="1.3"/>
<path d="M533.36,282.3 V279.6" stroke="#3a3a3a" stroke-width="1.3"/>
<path d="M537.50,282.3 V279.6" stroke="#3a3a3a" stroke-width="1.3"/>
<path d="M541.00,282.3 V279.6" stroke="#3a3a3a" stroke-width="1.3"/>
<path d="M544.03,282.3 V279.6" stroke="#3a3a3a" stroke-width="1.3"/>
<path d="M546.71,282.3 V279.6" stroke="#3a3a3a" stroke-width="1.3"/>
<path d="M549.10,282.3 V277.3" stroke="#3a3a3a" stroke-width="1.3"/>
<text x="390.70" y="296.8" font-size="8.1" text-anchor="middle" fill="#161616" stroke="#161616" stroke-width="0.188" font-family='"Liberation Sans", sans-serif' font-weight="normal" >10</text>
<text x="395.30" y="291.2" font-size="5.6" text-anchor="start" fill="#161616" stroke="#161616" stroke-width="0.13" font-family='"Liberation Sans", sans-serif' font-weight="normal" >3</text>
<text x="443.00" y="296.8" font-size="8.1" text-anchor="middle" fill="#161616" stroke="#161616" stroke-width="0.188" font-family='"Liberation Sans", sans-serif' font-weight="normal" >10</text>
<text x="447.60" y="291.2" font-size="5.6" text-anchor="start" fill="#161616" stroke="#161616" stroke-width="0.13" font-family='"Liberation Sans", sans-serif' font-weight="normal" >4</text>
<text x="495.30" y="296.8" font-size="8.1" text-anchor="middle" fill="#161616" stroke="#161616" stroke-width="0.188" font-family='"Liberation Sans", sans-serif' font-weight="normal" >10</text>
<text x="499.90" y="291.2" font-size="5.6" text-anchor="start" fill="#161616" stroke="#161616" stroke-width="0.13" font-family='"Liberation Sans", sans-serif' font-weight="normal" >5</text>
<text x="547.60" y="296.8" font-size="8.1" text-anchor="middle" fill="#161616" stroke="#161616" stroke-width="0.188" font-family='"Liberation Sans", sans-serif' font-weight="normal" >10</text>
<text x="552.20" y="291.2" font-size="5.6" text-anchor="start" fill="#161616" stroke="#161616" stroke-width="0.13" font-family='"Liberation Sans", sans-serif' font-weight="normal" >6</text>
<text x="407.94" y="288.8" font-size="5.7" text-anchor="middle" fill="#161616" stroke="#161616" stroke-width="0.132" font-family='"Liberation Sans", sans-serif' font-weight="normal" >2</text>
<text x="423.69" y="288.8" font-size="5.7" text-anchor="middle" fill="#161616" stroke="#161616" stroke-width="0.132" font-family='"Liberation Sans", sans-serif' font-weight="normal" >4</text>
<text x="432.90" y="288.8" font-size="5.7" text-anchor="middle" fill="#161616" stroke="#161616" stroke-width="0.132" font-family='"Liberation Sans", sans-serif' font-weight="normal" >6</text>
<text x="439.43" y="288.8" font-size="5.7" text-anchor="middle" fill="#161616" stroke="#161616" stroke-width="0.132" font-family='"Liberation Sans", sans-serif' font-weight="normal" >8</text>
<text x="460.24" y="288.8" font-size="5.7" text-anchor="middle" fill="#161616" stroke="#161616" stroke-width="0.132" font-family='"Liberation Sans", sans-serif' font-weight="normal" >2</text>
<text x="475.99" y="288.8" font-size="5.7" text-anchor="middle" fill="#161616" stroke="#161616" stroke-width="0.132" font-family='"Liberation Sans", sans-serif' font-weight="normal" >4</text>
<text x="485.20" y="288.8" font-size="5.7" text-anchor="middle" fill="#161616" stroke="#161616" stroke-width="0.132" font-family='"Liberation Sans", sans-serif' font-weight="normal" >6</text>
<text x="491.73" y="288.8" font-size="5.7" text-anchor="middle" fill="#161616" stroke="#161616" stroke-width="0.132" font-family='"Liberation Sans", sans-serif' font-weight="normal" >8</text>
<text x="512.54" y="288.8" font-size="5.7" text-anchor="middle" fill="#161616" stroke="#161616" stroke-width="0.132" font-family='"Liberation Sans", sans-serif' font-weight="normal" >2</text>
<text x="528.29" y="288.8" font-size="5.7" text-anchor="middle" fill="#161616" stroke="#161616" stroke-width="0.132" font-family='"Liberation Sans", sans-serif' font-weight="normal" >4</text>
<text x="537.50" y="288.8" font-size="5.7" text-anchor="middle" fill="#161616" stroke="#161616" stroke-width="0.132" font-family='"Liberation Sans", sans-serif' font-weight="normal" >6</text>
<text x="544.03" y="288.8" font-size="5.7" text-anchor="middle" fill="#161616" stroke="#161616" stroke-width="0.132" font-family='"Liberation Sans", sans-serif' font-weight="normal" >8</text>
<text x="470.5" y="305.3" font-size="9.5" text-anchor="middle" fill="#161616" stroke="#161616" stroke-width="0.22" font-family='"Liberation Sans", sans-serif' font-weight="normal" >Frequency (Hz)</text>
<path d="M392.20,169.17 L393.20,171.13 L394.20,173.06 L395.20,174.95 L396.20,176.80 L397.20,178.61 L398.20,180.39 L399.20,182.13 L400.20,183.84 L401.20,185.52 L402.20,187.16 L403.20,188.77 L404.20,190.34 L405.20,191.89 L406.20,193.40 L407.20,194.88 L408.20,196.34 L409.20,197.76 L410.20,199.16 L411.20,200.52 L412.20,201.86 L413.20,203.17 L414.20,204.46 L415.20,205.72 L416.20,206.95 L417.20,208.16 L418.20,209.35 L419.20,210.51 L420.20,211.65 L421.20,212.77 L422.20,213.86 L423.20,214.94 L424.20,215.99 L425.20,217.02 L426.20,218.04 L427.20,219.03 L428.20,220.01 L429.20,220.97 L430.20,221.91 L431.20,222.84 L432.20,223.75 L433.20,224.65 L434.20,225.53 L435.20,226.40 L436.20,227.25 L437.20,228.09 L438.20,228.92 L439.20,229.74 L440.20,230.54 L441.20,231.34 L442.20,232.12 L443.20,232.89 L444.20,233.66 L445.20,234.41 L446.20,235.15 L447.20,235.88 L448.20,236.60 L449.20,237.30 L450.20,238.00 L451.20,238.69 L452.20,239.37 L453.20,240.03 L454.20,240.69 L455.20,241.34 L456.20,241.97 L457.20,242.60 L458.20,243.22 L459.20,243.82 L460.20,244.42 L461.20,245.01 L462.20,245.58 L463.20,246.15 L464.20,246.71 L465.20,247.26 L466.20,247.80 L467.20,248.33 L468.20,248.85 L469.20,249.36 L470.20,249.86 L471.20,250.36 L472.20,250.84 L473.20,251.32 L474.20,251.78 L475.20,252.24 L476.20,252.69 L477.20,253.13 L478.20,253.56 L479.20,253.99 L480.20,254.40 L481.20,254.81 L482.20,255.21 L483.20,255.60 L484.20,255.98 L485.20,256.35 L486.20,256.72 L487.20,257.08 L488.20,257.43 L489.20,257.77 L490.20,258.10 L491.20,258.43 L492.20,258.75 L493.20,259.06 L494.20,259.36 L495.20,259.66 L496.20,259.95 L497.20,260.23 L498.20,260.51 L499.20,260.77 L500.20,261.03 L501.20,261.29 L502.20,261.53 L503.20,261.77 L504.20,262.00 L505.20,262.23 L506.20,262.45 L507.20,262.66 L508.20,262.87 L509.20,263.07 L510.20,263.26 L511.20,263.45 L512.20,263.63 L513.20,263.80 L514.20,263.97 L515.20,264.13 L516.20,264.29 L517.20,264.44 L518.20,264.58 L519.20,264.72 L520.20,264.85 L521.20,264.98 L522.20,265.10 L523.20,265.22 L524.20,265.33 L525.20,265.43 L526.20,265.53 L527.20,265.63 L528.20,265.72 L529.20,265.80 L530.20,265.88 L531.20,265.96 L532.20,266.02 L533.20,266.09 L534.20,266.15 L535.20,266.20 L536.20,266.25 L537.20,266.30 L538.20,266.34 L539.20,266.38 L540.20,266.41 L541.20,266.44 L542.20,266.46 L543.20,266.48 L544.20,266.50 L545.20,266.51 L546.20,266.52 L547.20,266.52 L548.20,266.52" fill="none" stroke="#22bb22" stroke-width="1.6"/>
<path d="M392.30,268.11 L393.30,266.86 L394.30,265.57 L395.30,264.23 L396.30,262.87 L397.30,261.49 L398.30,260.09 L399.30,258.68 L400.30,257.27 L401.30,255.86 L402.30,254.47 L403.30,253.09 L404.30,251.75 L405.30,250.43 L406.30,249.16 L407.30,247.93 L408.30,246.76 L409.30,245.65 L410.30,244.61 L411.30,243.64 L412.30,242.76 L413.30,241.96 L414.30,241.26 L415.30,240.67 L416.30,240.19 L417.30,239.82 L418.30,239.58 L419.30,239.47 L420.30,239.49 L421.30,239.65 L422.30,239.93 L423.30,240.32 L424.30,240.81 L425.30,241.40 L426.30,242.06 L427.30,242.78 L428.30,243.57 L429.30,244.41 L430.30,245.28 L431.30,246.18 L432.30,247.10 L433.30,248.03 L434.30,248.95 L435.30,249.85 L436.30,250.73 L437.30,251.58 L438.30,252.38 L439.30,253.13 L440.30,253.83 L441.30,254.47 L442.30,255.04 L443.30,255.54 L444.30,255.97 L445.30,256.31 L446.30,256.57 L447.30,256.74 L448.30,256.81 L449.30,256.77 L450.30,256.63 L451.30,256.38 L452.30,256.01 L453.30,255.51 L454.30,254.89 L455.30,254.13 L456.30,253.23 L457.30,252.19 L458.30,251.03 L459.30,249.75 L460.30,248.39 L461.30,246.96 L462.30,245.47 L463.30,243.95 L464.30,242.41 L465.30,240.87 L466.30,239.35 L467.30,237.87 L468.30,236.45 L469.30,235.10 L470.30,233.84 L471.30,232.70 L472.30,231.68 L473.30,230.81 L474.30,230.09 L475.30,229.51 L476.30,229.08 L477.30,228.78 L478.30,228.61 L479.30,228.58 L480.30,228.67 L481.30,228.88 L482.30,229.22 L483.30,229.66 L484.30,230.22 L485.30,230.89 L486.30,231.66 L487.30,232.52 L488.30,233.49 L489.30,234.55 L490.30,235.70 L491.30,236.93 L492.30,238.24 L493.30,239.63 L494.30,241.10 L495.30,242.63 L496.30,244.23 L497.30,245.89 L498.30,247.58 L499.30,249.29 L500.30,251.02 L501.30,252.75 L502.30,254.46 L503.30,256.14 L504.30,257.79 L505.30,259.37 L506.30,260.90 L507.30,262.35 L508.30,263.74 L509.30,265.06 L510.30,266.30 L511.30,267.47 L512.30,268.56 L513.30,269.56 L514.30,270.49 L515.30,271.34 L516.30,272.11 L517.30,272.82 L518.30,273.46 L519.30,274.03 L520.30,274.55 L521.30,275.01 L522.30,275.42 L523.30,275.78 L524.30,276.09 L525.30,276.36 L526.30,276.60 L527.30,276.80 L528.30,276.97 L529.30,277.12 L530.30,277.24 L531.30,277.35 L532.30,277.43 L533.30,277.51 L534.30,277.58 L535.30,277.64 L536.30,277.70 L537.30,277.77 L538.30,277.84 L539.30,277.92 L540.30,278.01 L541.30,278.13 L542.30,278.26 L543.30,278.42 L544.30,278.60 L545.30,278.82 L546.30,279.08 L547.30,279.37 L548.30,279.71" fill="none" stroke="#0a0a0a" stroke-width="1.6"/>
<path d="M392.00,166.20 C392.67,165.72 394.58,164.07 396.00,163.30 C397.42,162.53 399.08,162.10 400.50,161.60 C401.92,161.10 403.17,160.20 404.50,160.30 C405.83,160.40 407.27,161.42 408.50,162.20 C409.73,162.98 410.77,163.77 411.90,165.00 C413.03,166.23 414.13,167.85 415.30,169.60 C416.47,171.35 417.77,173.52 418.90,175.50 C420.03,177.48 420.77,179.15 422.10,181.50 C423.43,183.85 424.88,185.65 426.90,189.60 C428.92,193.55 432.02,201.50 434.20,205.20 C436.38,208.90 437.82,210.15 440.00,211.80 C442.18,213.45 445.10,214.72 447.30,215.10 C449.50,215.48 451.08,214.97 453.20,214.10 C455.32,213.23 457.78,211.37 460.00,209.90 C462.22,208.43 464.33,206.55 466.50,205.30 C468.67,204.05 471.17,203.08 473.00,202.40 C474.83,201.72 476.42,201.67 477.50,201.20 C478.58,200.73 478.88,199.38 479.50,199.60 C480.12,199.82 480.55,201.65 481.20,202.50 C481.85,203.35 481.95,203.15 483.40,204.70 C484.85,206.25 487.73,208.88 489.90,211.80 C492.07,214.72 493.90,218.38 496.40,222.20 C498.90,226.02 502.13,230.98 504.90,234.70 C507.67,238.42 510.73,241.98 513.00,244.50 C515.27,247.02 517.25,248.85 518.50,249.80 C519.75,250.75 519.97,249.80 520.50,250.20 C521.03,250.60 521.20,251.63 521.70,252.20 C522.20,252.77 521.62,252.38 523.50,253.60 C525.38,254.82 528.83,257.85 533.00,259.50 C537.17,261.15 545.92,262.83 548.50,263.50" fill="none" stroke="#e42828" stroke-width="1.3"/>
<path d="M392.50,156.04 L393.50,157.11 L394.50,158.04 L395.50,158.85 L396.50,159.54 L397.50,160.13 L398.50,160.62 L399.50,161.04 L400.50,161.39 L401.50,161.68 L402.50,161.93 L403.50,162.14 L404.50,162.33 L405.50,162.52 L406.50,162.70 L407.50,162.91 L408.50,163.13 L409.50,163.40 L410.50,163.71 L411.50,164.09 L412.50,164.54 L413.50,165.08 L414.50,165.71 L415.50,166.43 L416.50,167.26 L417.50,168.19 L418.50,169.23 L419.50,170.38 L420.50,171.65 L421.50,173.04 L422.50,174.55 L423.50,176.18 L424.50,177.94 L425.50,179.78 L426.50,181.69 L427.50,183.61 L428.50,185.54 L429.50,187.43 L430.50,189.28 L431.50,191.10 L432.50,192.86 L433.50,194.58 L434.50,196.24 L435.50,197.85 L436.50,199.39 L437.50,200.88 L438.50,202.29 L439.50,203.64 L440.50,204.91 L441.50,206.11 L442.50,207.23 L443.50,208.26 L444.50,209.21 L445.50,210.07 L446.50,210.83 L447.50,211.49 L448.50,212.06 L449.50,212.52 L450.50,212.87 L451.50,213.11 L452.50,213.24 L453.50,213.26 L454.50,213.17 L455.50,212.99 L456.50,212.72 L457.50,212.37 L458.50,211.95 L459.50,211.47 L460.50,210.95 L461.50,210.37 L462.50,209.77 L463.50,209.14 L464.50,208.49 L465.50,207.84 L466.50,207.18 L467.50,206.54 L468.50,205.91 L469.50,205.31 L470.50,204.75 L471.50,204.23 L472.50,203.77 L473.50,203.37 L474.50,203.04 L475.50,202.79 L476.50,202.63 L477.50,202.56 L478.50,202.60 L479.50,202.76 L480.50,203.04 L481.50,203.45 L482.50,204.00 L483.50,204.70 L484.50,205.57 L485.50,206.59 L486.50,207.80 L487.50,209.19 L488.50,210.77 L489.50,212.55 L490.50,214.51 L491.50,216.62 L492.50,218.85 L493.50,221.17 L494.50,223.56 L495.50,225.98 L496.50,228.41 L497.50,230.82 L498.50,233.18 L499.50,235.47 L500.50,237.64 L501.50,239.69 L502.50,241.57 L503.50,243.30 L504.50,244.89 L505.50,246.34 L506.50,247.68 L507.50,248.92 L508.50,250.07 L509.50,251.14 L510.50,252.14 L511.50,253.09 L512.50,253.99 L513.50,254.83 L514.50,255.62 L515.50,256.37 L516.50,257.06 L517.50,257.71 L518.50,258.32 L519.50,258.89 L520.50,259.42 L521.50,259.91 L522.50,260.37 L523.50,260.80 L524.50,261.19 L525.50,261.56 L526.50,261.90 L527.50,262.21 L528.50,262.51 L529.50,262.78 L530.50,263.04 L531.50,263.28 L532.50,263.50 L533.50,263.71 L534.50,263.92 L535.50,264.11 L536.50,264.30 L537.50,264.48 L538.50,264.67 L539.50,264.85 L540.50,265.03 L541.50,265.22 L542.50,265.42 L543.50,265.62 L544.50,265.83 L545.50,266.06 L546.50,266.30 L547.50,266.56 L548.50,266.83" fill="none" stroke="#2040c8" stroke-width="1.6"/>
<circle cx="443.6" cy="151.3" r="2" fill="#e81818"/>
<path d="M437,159.2 H450" stroke="#22bb22" stroke-width="1.6"/>
<path d="M437,166.6 H450" stroke="#0a0a0a" stroke-width="1.6"/>
<path d="M437.8,182.6 H449.5" stroke="#2040c8" stroke-width="1.6"/>
<text x="453.5" y="153.8" font-size="7" text-anchor="start" fill="#161616" stroke="#161616" stroke-width="0.162" font-family='"Liberation Sans", sans-serif' font-weight="normal" >Experiment</text>
<text x="453.5" y="161.7" font-size="7" text-anchor="start" fill="#161616" stroke="#161616" stroke-width="0.162" font-family='"Liberation Sans", sans-serif' font-weight="normal" >Quantum capacitance</text>
<text x="453.5" y="169.1" font-size="7" text-anchor="start" fill="#161616" stroke="#161616" stroke-width="0.162" font-family='"Liberation Sans", sans-serif' font-weight="normal" >Maxwell-Wagner with</text>
<text x="453.5" y="177.5" font-size="7" text-anchor="start" fill="#161616" stroke="#161616" stroke-width="0.162" font-family='"Liberation Sans", sans-serif' font-weight="normal" >resistivity reduction (MWRR)</text>
<text x="453.5" y="185.2" font-size="7" text-anchor="start" fill="#161616" stroke="#161616" stroke-width="0.162" font-family='"Liberation Sans", sans-serif' font-weight="normal" >Quantum+MWRR</text>
<text x="539.8" y="159.1" font-size="9.2" text-anchor="middle" fill="#2a2a2a" stroke="#2a2a2a" stroke-width="0.213" font-family='"Liberation Sans", sans-serif' font-weight="normal" >(g)</text>
<text transform="translate(371.4,212.4) rotate(-90)" x="0" y="0" font-size="10.5" text-anchor="middle" fill="#161616" stroke="#161616" stroke-width="0.243" font-family='"Liberation Sans", sans-serif'>ΔC/C<tspan font-size="7.2" dy="2.4">0</tspan><tspan dy="-2.4"> (%)</tspan></text>
<rect x="581.7" y="144.2" width="160.79999999999995" height="138.10000000000002" fill="none" stroke="#3a3a3a" stroke-width="1.5"/>
<path d="M581.7,279.80 H586.5" stroke="#3a3a3a" stroke-width="1.2"/>
<text x="578.7" y="282.90" font-size="8.4" text-anchor="end" fill="#161616" stroke="#161616" stroke-width="0.195" font-family='"Liberation Sans", sans-serif' font-weight="normal" >0</text>
<path d="M581.7,246.45 H586.5" stroke="#3a3a3a" stroke-width="1.2"/>
<text x="578.7" y="249.55" font-size="8.4" text-anchor="end" fill="#161616" stroke="#161616" stroke-width="0.195" font-family='"Liberation Sans", sans-serif' font-weight="normal" >5</text>
<path d="M581.7,213.10 H586.5" stroke="#3a3a3a" stroke-width="1.2"/>
<text x="578.7" y="216.20" font-size="8.4" text-anchor="end" fill="#161616" stroke="#161616" stroke-width="0.195" font-family='"Liberation Sans", sans-serif' font-weight="normal" >10</text>
<path d="M581.7,179.75 H586.5" stroke="#3a3a3a" stroke-width="1.2"/>
<text x="578.7" y="182.85" font-size="8.4" text-anchor="end" fill="#161616" stroke="#161616" stroke-width="0.195" font-family='"Liberation Sans", sans-serif' font-weight="normal" >15</text>
<path d="M581.7,146.40 H586.5" stroke="#3a3a3a" stroke-width="1.2"/>
<text x="578.7" y="149.50" font-size="8.4" text-anchor="end" fill="#161616" stroke="#161616" stroke-width="0.195" font-family='"Liberation Sans", sans-serif' font-weight="normal" >20</text>
<path d="M583.80,282.3 V277.3" stroke="#3a3a3a" stroke-width="1.3"/>
<path d="M599.54,282.3 V279.6" stroke="#3a3a3a" stroke-width="1.3"/>
<path d="M608.75,282.3 V279.6" stroke="#3a3a3a" stroke-width="1.3"/>
<path d="M615.29,282.3 V279.6" stroke="#3a3a3a" stroke-width="1.3"/>
<path d="M620.36,282.3 V279.6" stroke="#3a3a3a" stroke-width="1.3"/>
<path d="M624.50,282.3 V279.6" stroke="#3a3a3a" stroke-width="1.3"/>
<path d="M628.00,282.3 V279.6" stroke="#3a3a3a" stroke-width="1.3"/>
<path d="M631.03,282.3 V279.6" stroke="#3a3a3a" stroke-width="1.3"/>
<path d="M633.71,282.3 V279.6" stroke="#3a3a3a" stroke-width="1.3"/>
<path d="M636.10,282.3 V277.3" stroke="#3a3a3a" stroke-width="1.3"/>
<path d="M651.84,282.3 V279.6" stroke="#3a3a3a" stroke-width="1.3"/>
<path d="M661.05,282.3 V279.6" stroke="#3a3a3a" stroke-width="1.3"/>
<path d="M667.59,282.3 V279.6" stroke="#3a3a3a" stroke-width="1.3"/>
<path d="M672.66,282.3 V279.6" stroke="#3a3a3a" stroke-width="1.3"/>
<path d="M676.80,282.3 V279.6" stroke="#3a3a3a" stroke-width="1.3"/>
<path d="M680.30,282.3 V279.6" stroke="#3a3a3a" stroke-width="1.3"/>
<path d="M683.33,282.3 V279.6" stroke="#3a3a3a" stroke-width="1.3"/>
<path d="M686.01,282.3 V279.6" stroke="#3a3a3a" stroke-width="1.3"/>
<path d="M688.40,282.3 V277.3" stroke="#3a3a3a" stroke-width="1.3"/>
<path d="M704.14,282.3 V279.6" stroke="#3a3a3a" stroke-width="1.3"/>
<path d="M713.35,282.3 V279.6" stroke="#3a3a3a" stroke-width="1.3"/>
<path d="M719.89,282.3 V279.6" stroke="#3a3a3a" stroke-width="1.3"/>
<path d="M724.96,282.3 V279.6" stroke="#3a3a3a" stroke-width="1.3"/>
<path d="M729.10,282.3 V279.6" stroke="#3a3a3a" stroke-width="1.3"/>
<path d="M732.60,282.3 V279.6" stroke="#3a3a3a" stroke-width="1.3"/>
<path d="M735.63,282.3 V279.6" stroke="#3a3a3a" stroke-width="1.3"/>
<path d="M738.31,282.3 V279.6" stroke="#3a3a3a" stroke-width="1.3"/>
<path d="M740.70,282.3 V277.3" stroke="#3a3a3a" stroke-width="1.3"/>
<text x="582.30" y="296.8" font-size="8.1" text-anchor="middle" fill="#161616" stroke="#161616" stroke-width="0.188" font-family='"Liberation Sans", sans-serif' font-weight="normal" >10</text>
<text x="586.90" y="291.2" font-size="5.6" text-anchor="start" fill="#161616" stroke="#161616" stroke-width="0.13" font-family='"Liberation Sans", sans-serif' font-weight="normal" >3</text>
<text x="634.60" y="296.8" font-size="8.1" text-anchor="middle" fill="#161616" stroke="#161616" stroke-width="0.188" font-family='"Liberation Sans", sans-serif' font-weight="normal" >10</text>
<text x="639.20" y="291.2" font-size="5.6" text-anchor="start" fill="#161616" stroke="#161616" stroke-width="0.13" font-family='"Liberation Sans", sans-serif' font-weight="normal" >4</text>
<text x="686.90" y="296.8" font-size="8.1" text-anchor="middle" fill="#161616" stroke="#161616" stroke-width="0.188" font-family='"Liberation Sans", sans-serif' font-weight="normal" >10</text>
<text x="691.50" y="291.2" font-size="5.6" text-anchor="start" fill="#161616" stroke="#161616" stroke-width="0.13" font-family='"Liberation Sans", sans-serif' font-weight="normal" >5</text>
<text x="739.20" y="296.8" font-size="8.1" text-anchor="middle" fill="#161616" stroke="#161616" stroke-width="0.188" font-family='"Liberation Sans", sans-serif' font-weight="normal" >10</text>
<text x="743.80" y="291.2" font-size="5.6" text-anchor="start" fill="#161616" stroke="#161616" stroke-width="0.13" font-family='"Liberation Sans", sans-serif' font-weight="normal" >6</text>
<text x="599.54" y="288.8" font-size="5.7" text-anchor="middle" fill="#161616" stroke="#161616" stroke-width="0.132" font-family='"Liberation Sans", sans-serif' font-weight="normal" >2</text>
<text x="615.29" y="288.8" font-size="5.7" text-anchor="middle" fill="#161616" stroke="#161616" stroke-width="0.132" font-family='"Liberation Sans", sans-serif' font-weight="normal" >4</text>
<text x="624.50" y="288.8" font-size="5.7" text-anchor="middle" fill="#161616" stroke="#161616" stroke-width="0.132" font-family='"Liberation Sans", sans-serif' font-weight="normal" >6</text>
<text x="631.03" y="288.8" font-size="5.7" text-anchor="middle" fill="#161616" stroke="#161616" stroke-width="0.132" font-family='"Liberation Sans", sans-serif' font-weight="normal" >8</text>
<text x="651.84" y="288.8" font-size="5.7" text-anchor="middle" fill="#161616" stroke="#161616" stroke-width="0.132" font-family='"Liberation Sans", sans-serif' font-weight="normal" >2</text>
<text x="667.59" y="288.8" font-size="5.7" text-anchor="middle" fill="#161616" stroke="#161616" stroke-width="0.132" font-family='"Liberation Sans", sans-serif' font-weight="normal" >4</text>
<text x="676.80" y="288.8" font-size="5.7" text-anchor="middle" fill="#161616" stroke="#161616" stroke-width="0.132" font-family='"Liberation Sans", sans-serif' font-weight="normal" >6</text>
<text x="683.33" y="288.8" font-size="5.7" text-anchor="middle" fill="#161616" stroke="#161616" stroke-width="0.132" font-family='"Liberation Sans", sans-serif' font-weight="normal" >8</text>
<text x="704.14" y="288.8" font-size="5.7" text-anchor="middle" fill="#161616" stroke="#161616" stroke-width="0.132" font-family='"Liberation Sans", sans-serif' font-weight="normal" >2</text>
<text x="719.89" y="288.8" font-size="5.7" text-anchor="middle" fill="#161616" stroke="#161616" stroke-width="0.132" font-family='"Liberation Sans", sans-serif' font-weight="normal" >4</text>
<text x="729.10" y="288.8" font-size="5.7" text-anchor="middle" fill="#161616" stroke="#161616" stroke-width="0.132" font-family='"Liberation Sans", sans-serif' font-weight="normal" >6</text>
<text x="735.63" y="288.8" font-size="5.7" text-anchor="middle" fill="#161616" stroke="#161616" stroke-width="0.132" font-family='"Liberation Sans", sans-serif' font-weight="normal" >8</text>
<text x="662" y="305.3" font-size="9.5" text-anchor="middle" fill="#161616" stroke="#161616" stroke-width="0.22" font-family='"Liberation Sans", sans-serif' font-weight="normal" >Frequency (Hz)</text>
<path d="M584.40,229.40 L586.80,233.00 L589.00,239.30 L591.20,242.50 L593.60,241.10 L596.10,239.80 L598.30,235.60 L600.70,230.80 L603.10,227.70 L605.30,221.80 L607.60,214.50 L609.80,207.00 L612.40,200.70 L614.90,196.80 L616.90,190.20 L619.20,188.50 L621.80,186.80 L624.10,186.30 L626.40,187.70 L628.60,190.20 L631.10,195.30 L633.40,201.00 L635.70,207.80 L637.90,214.30 L640.40,223.40 L642.50,228.80 L645.50,236.90 L647.40,242.30 L649.70,245.90 L652.00,255.30 L654.30,259.30 L656.50,260.50 L659.10,261.80 L661.40,262.80 L663.50,258.40 L665.90,255.90 L668.40,255.40 L670.80,254.00 L673.00,246.20 L675.40,242.00 L677.50,235.50 L680.10,228.30 L682.20,221.00 L684.70,214.00 L687.00,206.20 L689.40,198.70 L691.60,192.90 L694.00,185.30 L696.40,179.20 L698.20,172.00 L700.70,170.90 L703.20,166.80 L705.50,163.00 L708.10,166.40 L710.00,153.50 L711.50,149.50 L712.60,152.40 L714.90,158.90 L717.50,165.20 L719.40,161.50 L722.00,161.80 L724.30,162.00 L726.60,165.20 L729.10,168.30 L731.40,170.90 L733.90,172.00 L736.10,175.10 L738.40,176.60" fill="none" stroke="#111" stroke-width="1.05"/>
<g fill="#111"><circle cx="584.4" cy="229.4" r="1.3"/><circle cx="586.8" cy="233" r="1.3"/><circle cx="589" cy="239.3" r="1.3"/><circle cx="591.2" cy="242.5" r="1.3"/><circle cx="593.6" cy="241.1" r="1.3"/><circle cx="596.1" cy="239.8" r="1.3"/><circle cx="598.3" cy="235.6" r="1.3"/><circle cx="600.7" cy="230.8" r="1.3"/><circle cx="603.1" cy="227.7" r="1.3"/><circle cx="605.3" cy="221.8" r="1.3"/><circle cx="607.6" cy="214.5" r="1.3"/><circle cx="609.8" cy="207" r="1.3"/><circle cx="612.4" cy="200.7" r="1.3"/><circle cx="614.9" cy="196.8" r="1.3"/><circle cx="616.9" cy="190.2" r="1.3"/><circle cx="619.2" cy="188.5" r="1.3"/><circle cx="621.8" cy="186.8" r="1.3"/><circle cx="624.1" cy="186.3" r="1.3"/><circle cx="626.4" cy="187.7" r="1.3"/><circle cx="628.6" cy="190.2" r="1.3"/><circle cx="631.1" cy="195.3" r="1.3"/><circle cx="633.4" cy="201" r="1.3"/><circle cx="635.7" cy="207.8" r="1.3"/><circle cx="637.9" cy="214.3" r="1.3"/><circle cx="640.4" cy="223.4" r="1.3"/><circle cx="642.5" cy="228.8" r="1.3"/><circle cx="645.5" cy="236.9" r="1.3"/><circle cx="647.4" cy="242.3" r="1.3"/><circle cx="649.7" cy="245.9" r="1.3"/><circle cx="652" cy="255.3" r="1.3"/><circle cx="654.3" cy="259.3" r="1.3"/><circle cx="656.5" cy="260.5" r="1.3"/><circle cx="659.1" cy="261.8" r="1.3"/><circle cx="661.4" cy="262.8" r="1.3"/><circle cx="663.5" cy="258.4" r="1.3"/><circle cx="665.9" cy="255.9" r="1.3"/><circle cx="668.4" cy="255.4" r="1.3"/><circle cx="670.8" cy="254" r="1.3"/><circle cx="673" cy="246.2" r="1.3"/><circle cx="675.4" cy="242" r="1.3"/><circle cx="677.5" cy="235.5" r="1.3"/><circle cx="680.1" cy="228.3" r="1.3"/><circle cx="682.2" cy="221" r="1.3"/><circle cx="684.7" cy="214" r="1.3"/><circle cx="687" cy="206.2" r="1.3"/><circle cx="689.4" cy="198.7" r="1.3"/><circle cx="691.6" cy="192.9" r="1.3"/><circle cx="694" cy="185.3" r="1.3"/><circle cx="696.4" cy="179.2" r="1.3"/><circle cx="698.2" cy="172" r="1.3"/><circle cx="700.7" cy="170.9" r="1.3"/><circle cx="703.2" cy="166.8" r="1.3"/><circle cx="705.5" cy="163" r="1.3"/><circle cx="708.1" cy="166.4" r="1.3"/><circle cx="710" cy="153.5" r="1.3"/><circle cx="711.5" cy="149.5" r="1.3"/><circle cx="712.6" cy="152.4" r="1.3"/><circle cx="714.9" cy="158.9" r="1.3"/><circle cx="717.5" cy="165.2" r="1.3"/><circle cx="719.4" cy="161.5" r="1.3"/><circle cx="722" cy="161.8" r="1.3"/><circle cx="724.3" cy="162" r="1.3"/><circle cx="726.6" cy="165.2" r="1.3"/><circle cx="729.1" cy="168.3" r="1.3"/><circle cx="731.4" cy="170.9" r="1.3"/><circle cx="733.9" cy="172" r="1.3"/><circle cx="736.1" cy="175.1" r="1.3"/><circle cx="738.4" cy="176.6" r="1.3"/></g>
<text x="731" y="159.8" font-size="9.2" text-anchor="middle" fill="#2a2a2a" stroke="#2a2a2a" stroke-width="0.213" font-family='"Liberation Sans", sans-serif' font-weight="normal" >(h)</text>
<text transform="translate(564.4,216) rotate(-90)" x="0" y="0" font-size="10.5" text-anchor="middle" fill="#161616" stroke="#161616" stroke-width="0.243" font-family='"Liberation Sans", sans-serif'>ΔD/D<tspan font-size="7.2" dy="2.4">0</tspan><tspan dy="-2.4"> (%)</tspan></text>
</svg>
</body></html>
